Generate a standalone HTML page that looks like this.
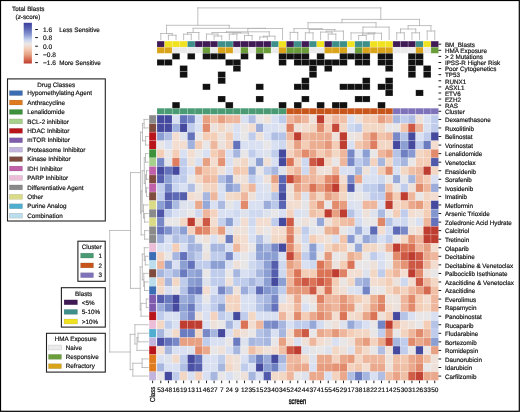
<!DOCTYPE html>
<html><head><meta charset="utf-8">
<style>
html,body{margin:0;padding:0;background:#fff;}
body{width:520px;height:412px;overflow:hidden;}
svg{display:block;font-family:"Liberation Sans", sans-serif;will-change:transform;}
text{stroke:#111111;stroke-width:0.18px;text-rendering:geometricPrecision;}
</style></head>
<body>
<svg width="520" height="412" viewBox="0 0 520 412">
<rect x="0" y="0" width="520" height="412" fill="#fff"/>
<g stroke="#ffffff" stroke-opacity="0.3" stroke-width="0.6">
<rect x="157.00" y="115.10" width="7.61" height="8.56" fill="#454a9f"/>
<rect x="164.61" y="115.10" width="7.61" height="8.56" fill="#454a9f"/>
<rect x="172.22" y="115.10" width="7.61" height="8.56" fill="#d8e0f2"/>
<rect x="179.83" y="115.10" width="7.61" height="8.56" fill="#6372bb"/>
<rect x="187.44" y="115.10" width="7.61" height="8.56" fill="#7888c7"/>
<rect x="195.05" y="115.10" width="7.61" height="8.56" fill="#d8e0f2"/>
<rect x="202.66" y="115.10" width="7.61" height="8.56" fill="#e8a082"/>
<rect x="210.27" y="115.10" width="7.61" height="8.56" fill="#f0c0a6"/>
<rect x="217.88" y="115.10" width="7.61" height="8.56" fill="#e8a082"/>
<rect x="225.49" y="115.10" width="7.61" height="8.56" fill="#eeb69c"/>
<rect x="233.10" y="115.10" width="7.61" height="8.56" fill="#eeb69c"/>
<rect x="240.71" y="115.10" width="7.61" height="8.56" fill="#d8e0f2"/>
<rect x="248.32" y="115.10" width="7.61" height="8.56" fill="#b0bee4"/>
<rect x="255.93" y="115.10" width="7.61" height="8.56" fill="#e8e6e6"/>
<rect x="263.54" y="115.10" width="7.61" height="8.56" fill="#eee1d9"/>
<rect x="271.15" y="115.10" width="7.61" height="8.56" fill="#d8e0f2"/>
<rect x="278.76" y="115.10" width="7.61" height="8.56" fill="#bfcceb"/>
<rect x="286.37" y="115.10" width="7.61" height="8.56" fill="#eeb69c"/>
<rect x="293.98" y="115.10" width="7.61" height="8.56" fill="#e8a082"/>
<rect x="301.59" y="115.10" width="7.61" height="8.56" fill="#eeb69c"/>
<rect x="309.20" y="115.10" width="7.61" height="8.56" fill="#eee1d9"/>
<rect x="316.81" y="115.10" width="7.61" height="8.56" fill="#bf3d30"/>
<rect x="324.42" y="115.10" width="7.61" height="8.56" fill="#f3d3c0"/>
<rect x="332.03" y="115.10" width="7.61" height="8.56" fill="#eeb69c"/>
<rect x="339.64" y="115.10" width="7.61" height="8.56" fill="#f0c0a6"/>
<rect x="347.25" y="115.10" width="7.61" height="8.56" fill="#d8e0f2"/>
<rect x="354.86" y="115.10" width="7.61" height="8.56" fill="#eee1d9"/>
<rect x="362.47" y="115.10" width="7.61" height="8.56" fill="#f3cdb5"/>
<rect x="370.08" y="115.10" width="7.61" height="8.56" fill="#f3cdb5"/>
<rect x="377.69" y="115.10" width="7.61" height="8.56" fill="#e8a082"/>
<rect x="385.30" y="115.10" width="7.61" height="8.56" fill="#eeb69c"/>
<rect x="392.91" y="115.10" width="7.61" height="8.56" fill="#a6b6df"/>
<rect x="400.52" y="115.10" width="7.61" height="8.56" fill="#bfcceb"/>
<rect x="408.13" y="115.10" width="7.61" height="8.56" fill="#b0bee4"/>
<rect x="415.74" y="115.10" width="7.61" height="8.56" fill="#eee1d9"/>
<rect x="423.35" y="115.10" width="7.61" height="8.56" fill="#d8e0f2"/>
<rect x="430.96" y="115.10" width="7.61" height="8.56" fill="#bfcceb"/>
<rect x="157.00" y="123.66" width="7.61" height="8.56" fill="#454a9f"/>
<rect x="164.61" y="123.66" width="7.61" height="8.56" fill="#454a9f"/>
<rect x="172.22" y="123.66" width="7.61" height="8.56" fill="#a0b1dd"/>
<rect x="179.83" y="123.66" width="7.61" height="8.56" fill="#454a9f"/>
<rect x="187.44" y="123.66" width="7.61" height="8.56" fill="#bfcceb"/>
<rect x="195.05" y="123.66" width="7.61" height="8.56" fill="#d8e0f2"/>
<rect x="202.66" y="123.66" width="7.61" height="8.56" fill="#e28a6c"/>
<rect x="210.27" y="123.66" width="7.61" height="8.56" fill="#ece2dd"/>
<rect x="217.88" y="123.66" width="7.61" height="8.56" fill="#f2d7c5"/>
<rect x="225.49" y="123.66" width="7.61" height="8.56" fill="#ece2dd"/>
<rect x="233.10" y="123.66" width="7.61" height="8.56" fill="#d8e0f2"/>
<rect x="240.71" y="123.66" width="7.61" height="8.56" fill="#eae4e2"/>
<rect x="248.32" y="123.66" width="7.61" height="8.56" fill="#f2ddd0"/>
<rect x="255.93" y="123.66" width="7.61" height="8.56" fill="#9bacda"/>
<rect x="263.54" y="123.66" width="7.61" height="8.56" fill="#d8e0f2"/>
<rect x="271.15" y="123.66" width="7.61" height="8.56" fill="#d8e0f2"/>
<rect x="278.76" y="123.66" width="7.61" height="8.56" fill="#e2e4eb"/>
<rect x="286.37" y="123.66" width="7.61" height="8.56" fill="#de7d60"/>
<rect x="293.98" y="123.66" width="7.61" height="8.56" fill="#eee1d9"/>
<rect x="301.59" y="123.66" width="7.61" height="8.56" fill="#f2ddd0"/>
<rect x="309.20" y="123.66" width="7.61" height="8.56" fill="#f2d7c5"/>
<rect x="316.81" y="123.66" width="7.61" height="8.56" fill="#e28a6c"/>
<rect x="324.42" y="123.66" width="7.61" height="8.56" fill="#f3cdb5"/>
<rect x="332.03" y="123.66" width="7.61" height="8.56" fill="#c54838"/>
<rect x="339.64" y="123.66" width="7.61" height="8.56" fill="#f2d7c5"/>
<rect x="347.25" y="123.66" width="7.61" height="8.56" fill="#ced8ef"/>
<rect x="354.86" y="123.66" width="7.61" height="8.56" fill="#bfcceb"/>
<rect x="362.47" y="123.66" width="7.61" height="8.56" fill="#f2d7c5"/>
<rect x="370.08" y="123.66" width="7.61" height="8.56" fill="#f2d7c5"/>
<rect x="377.69" y="123.66" width="7.61" height="8.56" fill="#f2d7c5"/>
<rect x="385.30" y="123.66" width="7.61" height="8.56" fill="#e8e6e6"/>
<rect x="392.91" y="123.66" width="7.61" height="8.56" fill="#e8e6e6"/>
<rect x="400.52" y="123.66" width="7.61" height="8.56" fill="#f1c4ab"/>
<rect x="408.13" y="123.66" width="7.61" height="8.56" fill="#cd5844"/>
<rect x="415.74" y="123.66" width="7.61" height="8.56" fill="#eeb69c"/>
<rect x="423.35" y="123.66" width="7.61" height="8.56" fill="#d8e0f2"/>
<rect x="430.96" y="123.66" width="7.61" height="8.56" fill="#bfcceb"/>
<rect x="157.00" y="132.21" width="7.61" height="8.56" fill="#8c9fd3"/>
<rect x="164.61" y="132.21" width="7.61" height="8.56" fill="#b0bee4"/>
<rect x="172.22" y="132.21" width="7.61" height="8.56" fill="#f2ddd0"/>
<rect x="179.83" y="132.21" width="7.61" height="8.56" fill="#dee2ed"/>
<rect x="187.44" y="132.21" width="7.61" height="8.56" fill="#6372bb"/>
<rect x="195.05" y="132.21" width="7.61" height="8.56" fill="#e8e6e6"/>
<rect x="202.66" y="132.21" width="7.61" height="8.56" fill="#f3cdb5"/>
<rect x="210.27" y="132.21" width="7.61" height="8.56" fill="#f3cdb5"/>
<rect x="217.88" y="132.21" width="7.61" height="8.56" fill="#ece2dd"/>
<rect x="225.49" y="132.21" width="7.61" height="8.56" fill="#f3cdb5"/>
<rect x="233.10" y="132.21" width="7.61" height="8.56" fill="#d8e0f2"/>
<rect x="240.71" y="132.21" width="7.61" height="8.56" fill="#e8e6e6"/>
<rect x="248.32" y="132.21" width="7.61" height="8.56" fill="#bfcceb"/>
<rect x="255.93" y="132.21" width="7.61" height="8.56" fill="#eee1d9"/>
<rect x="263.54" y="132.21" width="7.61" height="8.56" fill="#d8e0f2"/>
<rect x="271.15" y="132.21" width="7.61" height="8.56" fill="#b0bee4"/>
<rect x="278.76" y="132.21" width="7.61" height="8.56" fill="#b5c3e6"/>
<rect x="286.37" y="132.21" width="7.61" height="8.56" fill="#eeb69c"/>
<rect x="293.98" y="132.21" width="7.61" height="8.56" fill="#bf3d30"/>
<rect x="301.59" y="132.21" width="7.61" height="8.56" fill="#eeb69c"/>
<rect x="309.20" y="132.21" width="7.61" height="8.56" fill="#ebae91"/>
<rect x="316.81" y="132.21" width="7.61" height="8.56" fill="#ebae91"/>
<rect x="324.42" y="132.21" width="7.61" height="8.56" fill="#eaa98c"/>
<rect x="332.03" y="132.21" width="7.61" height="8.56" fill="#eee1d9"/>
<rect x="339.64" y="132.21" width="7.61" height="8.56" fill="#bf3d30"/>
<rect x="347.25" y="132.21" width="7.61" height="8.56" fill="#eae4e2"/>
<rect x="354.86" y="132.21" width="7.61" height="8.56" fill="#eee1d9"/>
<rect x="362.47" y="132.21" width="7.61" height="8.56" fill="#eeb69c"/>
<rect x="370.08" y="132.21" width="7.61" height="8.56" fill="#e28a6c"/>
<rect x="377.69" y="132.21" width="7.61" height="8.56" fill="#f1c4ab"/>
<rect x="385.30" y="132.21" width="7.61" height="8.56" fill="#eeb69c"/>
<rect x="392.91" y="132.21" width="7.61" height="8.56" fill="#7888c7"/>
<rect x="400.52" y="132.21" width="7.61" height="8.56" fill="#b5c3e6"/>
<rect x="408.13" y="132.21" width="7.61" height="8.56" fill="#454a9f"/>
<rect x="415.74" y="132.21" width="7.61" height="8.56" fill="#d8e0f2"/>
<rect x="423.35" y="132.21" width="7.61" height="8.56" fill="#bfcceb"/>
<rect x="430.96" y="132.21" width="7.61" height="8.56" fill="#454a9f"/>
<rect x="157.00" y="140.77" width="7.61" height="8.56" fill="#e8e6e6"/>
<rect x="164.61" y="140.77" width="7.61" height="8.56" fill="#d8e0f2"/>
<rect x="172.22" y="140.77" width="7.61" height="8.56" fill="#f2ddd0"/>
<rect x="179.83" y="140.77" width="7.61" height="8.56" fill="#f2ddd0"/>
<rect x="187.44" y="140.77" width="7.61" height="8.56" fill="#a0b1dd"/>
<rect x="195.05" y="140.77" width="7.61" height="8.56" fill="#f3cdb5"/>
<rect x="202.66" y="140.77" width="7.61" height="8.56" fill="#e8e6e6"/>
<rect x="210.27" y="140.77" width="7.61" height="8.56" fill="#eeb69c"/>
<rect x="217.88" y="140.77" width="7.61" height="8.56" fill="#ece2dd"/>
<rect x="225.49" y="140.77" width="7.61" height="8.56" fill="#f3d3c0"/>
<rect x="233.10" y="140.77" width="7.61" height="8.56" fill="#6372bb"/>
<rect x="240.71" y="140.77" width="7.61" height="8.56" fill="#d8e0f2"/>
<rect x="248.32" y="140.77" width="7.61" height="8.56" fill="#d8e0f2"/>
<rect x="255.93" y="140.77" width="7.61" height="8.56" fill="#d8e0f2"/>
<rect x="263.54" y="140.77" width="7.61" height="8.56" fill="#e8e6e6"/>
<rect x="271.15" y="140.77" width="7.61" height="8.56" fill="#d8e0f2"/>
<rect x="278.76" y="140.77" width="7.61" height="8.56" fill="#ced8ef"/>
<rect x="286.37" y="140.77" width="7.61" height="8.56" fill="#f2d7c5"/>
<rect x="293.98" y="140.77" width="7.61" height="8.56" fill="#e8a082"/>
<rect x="301.59" y="140.77" width="7.61" height="8.56" fill="#f3cdb5"/>
<rect x="309.20" y="140.77" width="7.61" height="8.56" fill="#ebae91"/>
<rect x="316.81" y="140.77" width="7.61" height="8.56" fill="#ebae91"/>
<rect x="324.42" y="140.77" width="7.61" height="8.56" fill="#e59779"/>
<rect x="332.03" y="140.77" width="7.61" height="8.56" fill="#f3cdb5"/>
<rect x="339.64" y="140.77" width="7.61" height="8.56" fill="#bf3d30"/>
<rect x="347.25" y="140.77" width="7.61" height="8.56" fill="#d8e0f2"/>
<rect x="354.86" y="140.77" width="7.61" height="8.56" fill="#f2c8b0"/>
<rect x="362.47" y="140.77" width="7.61" height="8.56" fill="#eeb69c"/>
<rect x="370.08" y="140.77" width="7.61" height="8.56" fill="#de7d60"/>
<rect x="377.69" y="140.77" width="7.61" height="8.56" fill="#f2d7c5"/>
<rect x="385.30" y="140.77" width="7.61" height="8.56" fill="#f2d7c5"/>
<rect x="392.91" y="140.77" width="7.61" height="8.56" fill="#454a9f"/>
<rect x="400.52" y="140.77" width="7.61" height="8.56" fill="#8c9fd3"/>
<rect x="408.13" y="140.77" width="7.61" height="8.56" fill="#454a9f"/>
<rect x="415.74" y="140.77" width="7.61" height="8.56" fill="#bfcceb"/>
<rect x="423.35" y="140.77" width="7.61" height="8.56" fill="#6b7bc0"/>
<rect x="430.96" y="140.77" width="7.61" height="8.56" fill="#f2ddd0"/>
<rect x="157.00" y="149.32" width="7.61" height="8.56" fill="#f3cdb5"/>
<rect x="164.61" y="149.32" width="7.61" height="8.56" fill="#e8e6e6"/>
<rect x="172.22" y="149.32" width="7.61" height="8.56" fill="#f3cdb5"/>
<rect x="179.83" y="149.32" width="7.61" height="8.56" fill="#d8e0f2"/>
<rect x="187.44" y="149.32" width="7.61" height="8.56" fill="#f2ddd0"/>
<rect x="195.05" y="149.32" width="7.61" height="8.56" fill="#e8e6e6"/>
<rect x="202.66" y="149.32" width="7.61" height="8.56" fill="#d8e0f2"/>
<rect x="210.27" y="149.32" width="7.61" height="8.56" fill="#f3cdb5"/>
<rect x="217.88" y="149.32" width="7.61" height="8.56" fill="#eeb69c"/>
<rect x="225.49" y="149.32" width="7.61" height="8.56" fill="#d8e0f2"/>
<rect x="233.10" y="149.32" width="7.61" height="8.56" fill="#a6b6df"/>
<rect x="240.71" y="149.32" width="7.61" height="8.56" fill="#e8e6e6"/>
<rect x="248.32" y="149.32" width="7.61" height="8.56" fill="#bfcceb"/>
<rect x="255.93" y="149.32" width="7.61" height="8.56" fill="#d8e0f2"/>
<rect x="263.54" y="149.32" width="7.61" height="8.56" fill="#dee2ed"/>
<rect x="271.15" y="149.32" width="7.61" height="8.56" fill="#bfcceb"/>
<rect x="278.76" y="149.32" width="7.61" height="8.56" fill="#454a9f"/>
<rect x="286.37" y="149.32" width="7.61" height="8.56" fill="#f3d3c0"/>
<rect x="293.98" y="149.32" width="7.61" height="8.56" fill="#eeb69c"/>
<rect x="301.59" y="149.32" width="7.61" height="8.56" fill="#e28a6c"/>
<rect x="309.20" y="149.32" width="7.61" height="8.56" fill="#e9a487"/>
<rect x="316.81" y="149.32" width="7.61" height="8.56" fill="#f3cdb5"/>
<rect x="324.42" y="149.32" width="7.61" height="8.56" fill="#eeb69c"/>
<rect x="332.03" y="149.32" width="7.61" height="8.56" fill="#f2d7c5"/>
<rect x="339.64" y="149.32" width="7.61" height="8.56" fill="#eeb69c"/>
<rect x="347.25" y="149.32" width="7.61" height="8.56" fill="#7888c7"/>
<rect x="354.86" y="149.32" width="7.61" height="8.56" fill="#d8e0f2"/>
<rect x="362.47" y="149.32" width="7.61" height="8.56" fill="#8c9fd3"/>
<rect x="370.08" y="149.32" width="7.61" height="8.56" fill="#e8e6e6"/>
<rect x="377.69" y="149.32" width="7.61" height="8.56" fill="#eeb69c"/>
<rect x="385.30" y="149.32" width="7.61" height="8.56" fill="#e8a082"/>
<rect x="392.91" y="149.32" width="7.61" height="8.56" fill="#b5c3e6"/>
<rect x="400.52" y="149.32" width="7.61" height="8.56" fill="#6f80c2"/>
<rect x="408.13" y="149.32" width="7.61" height="8.56" fill="#889ad1"/>
<rect x="415.74" y="149.32" width="7.61" height="8.56" fill="#f2d7c5"/>
<rect x="423.35" y="149.32" width="7.61" height="8.56" fill="#f3cdb5"/>
<rect x="430.96" y="149.32" width="7.61" height="8.56" fill="#e28a6c"/>
<rect x="157.00" y="157.88" width="7.61" height="8.56" fill="#7888c7"/>
<rect x="164.61" y="157.88" width="7.61" height="8.56" fill="#e2e4eb"/>
<rect x="172.22" y="157.88" width="7.61" height="8.56" fill="#de7d60"/>
<rect x="179.83" y="157.88" width="7.61" height="8.56" fill="#bfcceb"/>
<rect x="187.44" y="157.88" width="7.61" height="8.56" fill="#eee1d9"/>
<rect x="195.05" y="157.88" width="7.61" height="8.56" fill="#d8e0f2"/>
<rect x="202.66" y="157.88" width="7.61" height="8.56" fill="#e8a082"/>
<rect x="210.27" y="157.88" width="7.61" height="8.56" fill="#f2ddd0"/>
<rect x="217.88" y="157.88" width="7.61" height="8.56" fill="#e49375"/>
<rect x="225.49" y="157.88" width="7.61" height="8.56" fill="#d8e0f2"/>
<rect x="233.10" y="157.88" width="7.61" height="8.56" fill="#eee1d9"/>
<rect x="240.71" y="157.88" width="7.61" height="8.56" fill="#f2d7c5"/>
<rect x="248.32" y="157.88" width="7.61" height="8.56" fill="#dee2ed"/>
<rect x="255.93" y="157.88" width="7.61" height="8.56" fill="#8c9fd3"/>
<rect x="263.54" y="157.88" width="7.61" height="8.56" fill="#f0dfd4"/>
<rect x="271.15" y="157.88" width="7.61" height="8.56" fill="#d8e0f2"/>
<rect x="278.76" y="157.88" width="7.61" height="8.56" fill="#454a9f"/>
<rect x="286.37" y="157.88" width="7.61" height="8.56" fill="#db7457"/>
<rect x="293.98" y="157.88" width="7.61" height="8.56" fill="#f2d7c5"/>
<rect x="301.59" y="157.88" width="7.61" height="8.56" fill="#ced8ef"/>
<rect x="309.20" y="157.88" width="7.61" height="8.56" fill="#cd5844"/>
<rect x="316.81" y="157.88" width="7.61" height="8.56" fill="#bf3d30"/>
<rect x="324.42" y="157.88" width="7.61" height="8.56" fill="#f2d7c5"/>
<rect x="332.03" y="157.88" width="7.61" height="8.56" fill="#e8e6e6"/>
<rect x="339.64" y="157.88" width="7.61" height="8.56" fill="#eeb69c"/>
<rect x="347.25" y="157.88" width="7.61" height="8.56" fill="#7888c7"/>
<rect x="354.86" y="157.88" width="7.61" height="8.56" fill="#bfcceb"/>
<rect x="362.47" y="157.88" width="7.61" height="8.56" fill="#a6b6df"/>
<rect x="370.08" y="157.88" width="7.61" height="8.56" fill="#f3d3c0"/>
<rect x="377.69" y="157.88" width="7.61" height="8.56" fill="#a6b6df"/>
<rect x="385.30" y="157.88" width="7.61" height="8.56" fill="#f2d7c5"/>
<rect x="392.91" y="157.88" width="7.61" height="8.56" fill="#bfcceb"/>
<rect x="400.52" y="157.88" width="7.61" height="8.56" fill="#a6b6df"/>
<rect x="408.13" y="157.88" width="7.61" height="8.56" fill="#e8e6e6"/>
<rect x="415.74" y="157.88" width="7.61" height="8.56" fill="#f3cdb5"/>
<rect x="423.35" y="157.88" width="7.61" height="8.56" fill="#f3cdb5"/>
<rect x="430.96" y="157.88" width="7.61" height="8.56" fill="#515aaa"/>
<rect x="157.00" y="166.44" width="7.61" height="8.56" fill="#454a9f"/>
<rect x="164.61" y="166.44" width="7.61" height="8.56" fill="#6372bb"/>
<rect x="172.22" y="166.44" width="7.61" height="8.56" fill="#454a9f"/>
<rect x="179.83" y="166.44" width="7.61" height="8.56" fill="#bfcceb"/>
<rect x="187.44" y="166.44" width="7.61" height="8.56" fill="#d8e0f2"/>
<rect x="195.05" y="166.44" width="7.61" height="8.56" fill="#e8a082"/>
<rect x="202.66" y="166.44" width="7.61" height="8.56" fill="#f1c4ab"/>
<rect x="210.27" y="166.44" width="7.61" height="8.56" fill="#f3cdb5"/>
<rect x="217.88" y="166.44" width="7.61" height="8.56" fill="#eee1d9"/>
<rect x="225.49" y="166.44" width="7.61" height="8.56" fill="#d8e0f2"/>
<rect x="233.10" y="166.44" width="7.61" height="8.56" fill="#f1c4ab"/>
<rect x="240.71" y="166.44" width="7.61" height="8.56" fill="#f3cdb5"/>
<rect x="248.32" y="166.44" width="7.61" height="8.56" fill="#91a4d5"/>
<rect x="255.93" y="166.44" width="7.61" height="8.56" fill="#e8e6e6"/>
<rect x="263.54" y="166.44" width="7.61" height="8.56" fill="#bfcceb"/>
<rect x="271.15" y="166.44" width="7.61" height="8.56" fill="#a6b6df"/>
<rect x="278.76" y="166.44" width="7.61" height="8.56" fill="#dee2ed"/>
<rect x="286.37" y="166.44" width="7.61" height="8.56" fill="#f3cdb5"/>
<rect x="293.98" y="166.44" width="7.61" height="8.56" fill="#eeb69c"/>
<rect x="301.59" y="166.44" width="7.61" height="8.56" fill="#ced8ef"/>
<rect x="309.20" y="166.44" width="7.61" height="8.56" fill="#eeb69c"/>
<rect x="316.81" y="166.44" width="7.61" height="8.56" fill="#eee1d9"/>
<rect x="324.42" y="166.44" width="7.61" height="8.56" fill="#eee1d9"/>
<rect x="332.03" y="166.44" width="7.61" height="8.56" fill="#eeb69c"/>
<rect x="339.64" y="166.44" width="7.61" height="8.56" fill="#d8e0f2"/>
<rect x="347.25" y="166.44" width="7.61" height="8.56" fill="#d8e0f2"/>
<rect x="354.86" y="166.44" width="7.61" height="8.56" fill="#a6b6df"/>
<rect x="362.47" y="166.44" width="7.61" height="8.56" fill="#eee1d9"/>
<rect x="370.08" y="166.44" width="7.61" height="8.56" fill="#d8e0f2"/>
<rect x="377.69" y="166.44" width="7.61" height="8.56" fill="#f3cdb5"/>
<rect x="385.30" y="166.44" width="7.61" height="8.56" fill="#e28a6c"/>
<rect x="392.91" y="166.44" width="7.61" height="8.56" fill="#d8e0f2"/>
<rect x="400.52" y="166.44" width="7.61" height="8.56" fill="#f2d7c5"/>
<rect x="408.13" y="166.44" width="7.61" height="8.56" fill="#f0c0a6"/>
<rect x="415.74" y="166.44" width="7.61" height="8.56" fill="#eeb69c"/>
<rect x="423.35" y="166.44" width="7.61" height="8.56" fill="#bf3d30"/>
<rect x="430.96" y="166.44" width="7.61" height="8.56" fill="#f2d7c5"/>
<rect x="157.00" y="174.99" width="7.61" height="8.56" fill="#545ead"/>
<rect x="164.61" y="174.99" width="7.61" height="8.56" fill="#8c9fd3"/>
<rect x="172.22" y="174.99" width="7.61" height="8.56" fill="#bfcceb"/>
<rect x="179.83" y="174.99" width="7.61" height="8.56" fill="#bfcceb"/>
<rect x="187.44" y="174.99" width="7.61" height="8.56" fill="#e8e6e6"/>
<rect x="195.05" y="174.99" width="7.61" height="8.56" fill="#f2d7c5"/>
<rect x="202.66" y="174.99" width="7.61" height="8.56" fill="#eeb69c"/>
<rect x="210.27" y="174.99" width="7.61" height="8.56" fill="#f0c0a6"/>
<rect x="217.88" y="174.99" width="7.61" height="8.56" fill="#b0bee4"/>
<rect x="225.49" y="174.99" width="7.61" height="8.56" fill="#889ad1"/>
<rect x="233.10" y="174.99" width="7.61" height="8.56" fill="#eee1d9"/>
<rect x="240.71" y="174.99" width="7.61" height="8.56" fill="#eee1d9"/>
<rect x="248.32" y="174.99" width="7.61" height="8.56" fill="#bfcceb"/>
<rect x="255.93" y="174.99" width="7.61" height="8.56" fill="#d8e0f2"/>
<rect x="263.54" y="174.99" width="7.61" height="8.56" fill="#eee1d9"/>
<rect x="271.15" y="174.99" width="7.61" height="8.56" fill="#e8a082"/>
<rect x="278.76" y="174.99" width="7.61" height="8.56" fill="#5a66b3"/>
<rect x="286.37" y="174.99" width="7.61" height="8.56" fill="#c54838"/>
<rect x="293.98" y="174.99" width="7.61" height="8.56" fill="#e28a6c"/>
<rect x="301.59" y="174.99" width="7.61" height="8.56" fill="#eeb69c"/>
<rect x="309.20" y="174.99" width="7.61" height="8.56" fill="#eeb69c"/>
<rect x="316.81" y="174.99" width="7.61" height="8.56" fill="#f1c4ab"/>
<rect x="324.42" y="174.99" width="7.61" height="8.56" fill="#e28a6c"/>
<rect x="332.03" y="174.99" width="7.61" height="8.56" fill="#db7457"/>
<rect x="339.64" y="174.99" width="7.61" height="8.56" fill="#f2ddd0"/>
<rect x="347.25" y="174.99" width="7.61" height="8.56" fill="#7888c7"/>
<rect x="354.86" y="174.99" width="7.61" height="8.56" fill="#eaa98c"/>
<rect x="362.47" y="174.99" width="7.61" height="8.56" fill="#d8e0f2"/>
<rect x="370.08" y="174.99" width="7.61" height="8.56" fill="#d8e0f2"/>
<rect x="377.69" y="174.99" width="7.61" height="8.56" fill="#ced8ef"/>
<rect x="385.30" y="174.99" width="7.61" height="8.56" fill="#e8e6e6"/>
<rect x="392.91" y="174.99" width="7.61" height="8.56" fill="#96a8d8"/>
<rect x="400.52" y="174.99" width="7.61" height="8.56" fill="#e5e5e8"/>
<rect x="408.13" y="174.99" width="7.61" height="8.56" fill="#a6b6df"/>
<rect x="415.74" y="174.99" width="7.61" height="8.56" fill="#eeb69c"/>
<rect x="423.35" y="174.99" width="7.61" height="8.56" fill="#f3cdb5"/>
<rect x="430.96" y="174.99" width="7.61" height="8.56" fill="#d8e0f2"/>
<rect x="157.00" y="183.55" width="7.61" height="8.56" fill="#bfcceb"/>
<rect x="164.61" y="183.55" width="7.61" height="8.56" fill="#7888c7"/>
<rect x="172.22" y="183.55" width="7.61" height="8.56" fill="#c9d4ee"/>
<rect x="179.83" y="183.55" width="7.61" height="8.56" fill="#d8e0f2"/>
<rect x="187.44" y="183.55" width="7.61" height="8.56" fill="#b0bee4"/>
<rect x="195.05" y="183.55" width="7.61" height="8.56" fill="#eae4e2"/>
<rect x="202.66" y="183.55" width="7.61" height="8.56" fill="#f2d7c5"/>
<rect x="210.27" y="183.55" width="7.61" height="8.56" fill="#f3d3c0"/>
<rect x="217.88" y="183.55" width="7.61" height="8.56" fill="#d8e0f2"/>
<rect x="225.49" y="183.55" width="7.61" height="8.56" fill="#8c9fd3"/>
<rect x="233.10" y="183.55" width="7.61" height="8.56" fill="#a0b1dd"/>
<rect x="240.71" y="183.55" width="7.61" height="8.56" fill="#f2d7c5"/>
<rect x="248.32" y="183.55" width="7.61" height="8.56" fill="#eeb69c"/>
<rect x="255.93" y="183.55" width="7.61" height="8.56" fill="#d8e0f2"/>
<rect x="263.54" y="183.55" width="7.61" height="8.56" fill="#dee2ed"/>
<rect x="271.15" y="183.55" width="7.61" height="8.56" fill="#f3cdb5"/>
<rect x="278.76" y="183.55" width="7.61" height="8.56" fill="#545ead"/>
<rect x="286.37" y="183.55" width="7.61" height="8.56" fill="#eee1d9"/>
<rect x="293.98" y="183.55" width="7.61" height="8.56" fill="#e8a082"/>
<rect x="301.59" y="183.55" width="7.61" height="8.56" fill="#eeb69c"/>
<rect x="309.20" y="183.55" width="7.61" height="8.56" fill="#db7457"/>
<rect x="316.81" y="183.55" width="7.61" height="8.56" fill="#e8a082"/>
<rect x="324.42" y="183.55" width="7.61" height="8.56" fill="#db7457"/>
<rect x="332.03" y="183.55" width="7.61" height="8.56" fill="#bf3d30"/>
<rect x="339.64" y="183.55" width="7.61" height="8.56" fill="#f3cdb5"/>
<rect x="347.25" y="183.55" width="7.61" height="8.56" fill="#515aaa"/>
<rect x="354.86" y="183.55" width="7.61" height="8.56" fill="#dee2ed"/>
<rect x="362.47" y="183.55" width="7.61" height="8.56" fill="#bfcceb"/>
<rect x="370.08" y="183.55" width="7.61" height="8.56" fill="#bfcceb"/>
<rect x="377.69" y="183.55" width="7.61" height="8.56" fill="#a6b6df"/>
<rect x="385.30" y="183.55" width="7.61" height="8.56" fill="#f1c4ab"/>
<rect x="392.91" y="183.55" width="7.61" height="8.56" fill="#e8e6e6"/>
<rect x="400.52" y="183.55" width="7.61" height="8.56" fill="#bfcceb"/>
<rect x="408.13" y="183.55" width="7.61" height="8.56" fill="#eee1d9"/>
<rect x="415.74" y="183.55" width="7.61" height="8.56" fill="#e28a6c"/>
<rect x="423.35" y="183.55" width="7.61" height="8.56" fill="#eeb69c"/>
<rect x="430.96" y="183.55" width="7.61" height="8.56" fill="#9bacda"/>
<rect x="157.00" y="192.10" width="7.61" height="8.56" fill="#bfcceb"/>
<rect x="164.61" y="192.10" width="7.61" height="8.56" fill="#545ead"/>
<rect x="172.22" y="192.10" width="7.61" height="8.56" fill="#5d6ab5"/>
<rect x="179.83" y="192.10" width="7.61" height="8.56" fill="#545ead"/>
<rect x="187.44" y="192.10" width="7.61" height="8.56" fill="#f2ddd0"/>
<rect x="195.05" y="192.10" width="7.61" height="8.56" fill="#eee1d9"/>
<rect x="202.66" y="192.10" width="7.61" height="8.56" fill="#a6b6df"/>
<rect x="210.27" y="192.10" width="7.61" height="8.56" fill="#eeb69c"/>
<rect x="217.88" y="192.10" width="7.61" height="8.56" fill="#d8e0f2"/>
<rect x="225.49" y="192.10" width="7.61" height="8.56" fill="#f2dacb"/>
<rect x="233.10" y="192.10" width="7.61" height="8.56" fill="#f2d7c5"/>
<rect x="240.71" y="192.10" width="7.61" height="8.56" fill="#eeb69c"/>
<rect x="248.32" y="192.10" width="7.61" height="8.56" fill="#eee1d9"/>
<rect x="255.93" y="192.10" width="7.61" height="8.56" fill="#d8e0f2"/>
<rect x="263.54" y="192.10" width="7.61" height="8.56" fill="#d8e0f2"/>
<rect x="271.15" y="192.10" width="7.61" height="8.56" fill="#b5c3e6"/>
<rect x="278.76" y="192.10" width="7.61" height="8.56" fill="#454a9f"/>
<rect x="286.37" y="192.10" width="7.61" height="8.56" fill="#eee1d9"/>
<rect x="293.98" y="192.10" width="7.61" height="8.56" fill="#f1c4ab"/>
<rect x="301.59" y="192.10" width="7.61" height="8.56" fill="#dee2ed"/>
<rect x="309.20" y="192.10" width="7.61" height="8.56" fill="#eeb69c"/>
<rect x="316.81" y="192.10" width="7.61" height="8.56" fill="#f2d7c5"/>
<rect x="324.42" y="192.10" width="7.61" height="8.56" fill="#e8a082"/>
<rect x="332.03" y="192.10" width="7.61" height="8.56" fill="#eeb69c"/>
<rect x="339.64" y="192.10" width="7.61" height="8.56" fill="#f2d7c5"/>
<rect x="347.25" y="192.10" width="7.61" height="8.56" fill="#e2e4eb"/>
<rect x="354.86" y="192.10" width="7.61" height="8.56" fill="#e8e6e6"/>
<rect x="362.47" y="192.10" width="7.61" height="8.56" fill="#dee2ed"/>
<rect x="370.08" y="192.10" width="7.61" height="8.56" fill="#bfcceb"/>
<rect x="377.69" y="192.10" width="7.61" height="8.56" fill="#bfcceb"/>
<rect x="385.30" y="192.10" width="7.61" height="8.56" fill="#e28a6c"/>
<rect x="392.91" y="192.10" width="7.61" height="8.56" fill="#f3cdb5"/>
<rect x="400.52" y="192.10" width="7.61" height="8.56" fill="#bf3d30"/>
<rect x="408.13" y="192.10" width="7.61" height="8.56" fill="#eeb69c"/>
<rect x="415.74" y="192.10" width="7.61" height="8.56" fill="#e8e6e6"/>
<rect x="423.35" y="192.10" width="7.61" height="8.56" fill="#f2d7c5"/>
<rect x="430.96" y="192.10" width="7.61" height="8.56" fill="#f2ddd0"/>
<rect x="157.00" y="200.66" width="7.61" height="8.56" fill="#8c9fd3"/>
<rect x="164.61" y="200.66" width="7.61" height="8.56" fill="#6372bb"/>
<rect x="172.22" y="200.66" width="7.61" height="8.56" fill="#abbae1"/>
<rect x="179.83" y="200.66" width="7.61" height="8.56" fill="#dee2ed"/>
<rect x="187.44" y="200.66" width="7.61" height="8.56" fill="#dee2ed"/>
<rect x="195.05" y="200.66" width="7.61" height="8.56" fill="#eaa98c"/>
<rect x="202.66" y="200.66" width="7.61" height="8.56" fill="#96a8d8"/>
<rect x="210.27" y="200.66" width="7.61" height="8.56" fill="#d8e0f2"/>
<rect x="217.88" y="200.66" width="7.61" height="8.56" fill="#abbae1"/>
<rect x="225.49" y="200.66" width="7.61" height="8.56" fill="#e5e5e8"/>
<rect x="233.10" y="200.66" width="7.61" height="8.56" fill="#d8e0f2"/>
<rect x="240.71" y="200.66" width="7.61" height="8.56" fill="#e28a6c"/>
<rect x="248.32" y="200.66" width="7.61" height="8.56" fill="#d8e0f2"/>
<rect x="255.93" y="200.66" width="7.61" height="8.56" fill="#d8e0f2"/>
<rect x="263.54" y="200.66" width="7.61" height="8.56" fill="#9bacda"/>
<rect x="271.15" y="200.66" width="7.61" height="8.56" fill="#bac8e9"/>
<rect x="278.76" y="200.66" width="7.61" height="8.56" fill="#5a66b3"/>
<rect x="286.37" y="200.66" width="7.61" height="8.56" fill="#f2ddd0"/>
<rect x="293.98" y="200.66" width="7.61" height="8.56" fill="#f2ddd0"/>
<rect x="301.59" y="200.66" width="7.61" height="8.56" fill="#e5e5e8"/>
<rect x="309.20" y="200.66" width="7.61" height="8.56" fill="#f1c4ab"/>
<rect x="316.81" y="200.66" width="7.61" height="8.56" fill="#e49375"/>
<rect x="324.42" y="200.66" width="7.61" height="8.56" fill="#e8e6e6"/>
<rect x="332.03" y="200.66" width="7.61" height="8.56" fill="#e28a6c"/>
<rect x="339.64" y="200.66" width="7.61" height="8.56" fill="#e79c7e"/>
<rect x="347.25" y="200.66" width="7.61" height="8.56" fill="#dbe1f0"/>
<rect x="354.86" y="200.66" width="7.61" height="8.56" fill="#dee2ed"/>
<rect x="362.47" y="200.66" width="7.61" height="8.56" fill="#eeb69c"/>
<rect x="370.08" y="200.66" width="7.61" height="8.56" fill="#eeb69c"/>
<rect x="377.69" y="200.66" width="7.61" height="8.56" fill="#d8e0f2"/>
<rect x="385.30" y="200.66" width="7.61" height="8.56" fill="#bf3d30"/>
<rect x="392.91" y="200.66" width="7.61" height="8.56" fill="#f2d7c5"/>
<rect x="400.52" y="200.66" width="7.61" height="8.56" fill="#f3cdb5"/>
<rect x="408.13" y="200.66" width="7.61" height="8.56" fill="#eaa98c"/>
<rect x="415.74" y="200.66" width="7.61" height="8.56" fill="#e79c7e"/>
<rect x="423.35" y="200.66" width="7.61" height="8.56" fill="#f3cdb5"/>
<rect x="430.96" y="200.66" width="7.61" height="8.56" fill="#454a9f"/>
<rect x="157.00" y="209.22" width="7.61" height="8.56" fill="#4e56a7"/>
<rect x="164.61" y="209.22" width="7.61" height="8.56" fill="#bfcceb"/>
<rect x="172.22" y="209.22" width="7.61" height="8.56" fill="#d8e0f2"/>
<rect x="179.83" y="209.22" width="7.61" height="8.56" fill="#dee2ed"/>
<rect x="187.44" y="209.22" width="7.61" height="8.56" fill="#e8e6e6"/>
<rect x="195.05" y="209.22" width="7.61" height="8.56" fill="#ced8ef"/>
<rect x="202.66" y="209.22" width="7.61" height="8.56" fill="#eeb69c"/>
<rect x="210.27" y="209.22" width="7.61" height="8.56" fill="#f3d3c0"/>
<rect x="217.88" y="209.22" width="7.61" height="8.56" fill="#d8e0f2"/>
<rect x="225.49" y="209.22" width="7.61" height="8.56" fill="#d8e0f2"/>
<rect x="233.10" y="209.22" width="7.61" height="8.56" fill="#ced8ef"/>
<rect x="240.71" y="209.22" width="7.61" height="8.56" fill="#dee2ed"/>
<rect x="248.32" y="209.22" width="7.61" height="8.56" fill="#ced8ef"/>
<rect x="255.93" y="209.22" width="7.61" height="8.56" fill="#ced8ef"/>
<rect x="263.54" y="209.22" width="7.61" height="8.56" fill="#dee2ed"/>
<rect x="271.15" y="209.22" width="7.61" height="8.56" fill="#e8e6e6"/>
<rect x="278.76" y="209.22" width="7.61" height="8.56" fill="#d8e0f2"/>
<rect x="286.37" y="209.22" width="7.61" height="8.56" fill="#f3d3c0"/>
<rect x="293.98" y="209.22" width="7.61" height="8.56" fill="#d8e0f2"/>
<rect x="301.59" y="209.22" width="7.61" height="8.56" fill="#dee2ed"/>
<rect x="309.20" y="209.22" width="7.61" height="8.56" fill="#f0c0a6"/>
<rect x="316.81" y="209.22" width="7.61" height="8.56" fill="#f3cdb5"/>
<rect x="324.42" y="209.22" width="7.61" height="8.56" fill="#bf3d30"/>
<rect x="332.03" y="209.22" width="7.61" height="8.56" fill="#e8a082"/>
<rect x="339.64" y="209.22" width="7.61" height="8.56" fill="#bf3d30"/>
<rect x="347.25" y="209.22" width="7.61" height="8.56" fill="#b5c3e6"/>
<rect x="354.86" y="209.22" width="7.61" height="8.56" fill="#d8e0f2"/>
<rect x="362.47" y="209.22" width="7.61" height="8.56" fill="#eee1d9"/>
<rect x="370.08" y="209.22" width="7.61" height="8.56" fill="#dee2ed"/>
<rect x="377.69" y="209.22" width="7.61" height="8.56" fill="#abbae1"/>
<rect x="385.30" y="209.22" width="7.61" height="8.56" fill="#e8e6e6"/>
<rect x="392.91" y="209.22" width="7.61" height="8.56" fill="#f3cdb5"/>
<rect x="400.52" y="209.22" width="7.61" height="8.56" fill="#bfcceb"/>
<rect x="408.13" y="209.22" width="7.61" height="8.56" fill="#f2ddd0"/>
<rect x="415.74" y="209.22" width="7.61" height="8.56" fill="#eee1d9"/>
<rect x="423.35" y="209.22" width="7.61" height="8.56" fill="#f3cdb5"/>
<rect x="430.96" y="209.22" width="7.61" height="8.56" fill="#8496ce"/>
<rect x="157.00" y="217.77" width="7.61" height="8.56" fill="#7888c7"/>
<rect x="164.61" y="217.77" width="7.61" height="8.56" fill="#e8e6e6"/>
<rect x="172.22" y="217.77" width="7.61" height="8.56" fill="#e8e6e6"/>
<rect x="179.83" y="217.77" width="7.61" height="8.56" fill="#f2d7c5"/>
<rect x="187.44" y="217.77" width="7.61" height="8.56" fill="#bf3d30"/>
<rect x="195.05" y="217.77" width="7.61" height="8.56" fill="#f2d7c5"/>
<rect x="202.66" y="217.77" width="7.61" height="8.56" fill="#cd5844"/>
<rect x="210.27" y="217.77" width="7.61" height="8.56" fill="#f2ddd0"/>
<rect x="217.88" y="217.77" width="7.61" height="8.56" fill="#c4d0ec"/>
<rect x="225.49" y="217.77" width="7.61" height="8.56" fill="#8c9fd3"/>
<rect x="233.10" y="217.77" width="7.61" height="8.56" fill="#d8e0f2"/>
<rect x="240.71" y="217.77" width="7.61" height="8.56" fill="#f2ddd0"/>
<rect x="248.32" y="217.77" width="7.61" height="8.56" fill="#ced8ef"/>
<rect x="255.93" y="217.77" width="7.61" height="8.56" fill="#f2ddd0"/>
<rect x="263.54" y="217.77" width="7.61" height="8.56" fill="#f2ddd0"/>
<rect x="271.15" y="217.77" width="7.61" height="8.56" fill="#bfcceb"/>
<rect x="278.76" y="217.77" width="7.61" height="8.56" fill="#454a9f"/>
<rect x="286.37" y="217.77" width="7.61" height="8.56" fill="#cd5844"/>
<rect x="293.98" y="217.77" width="7.61" height="8.56" fill="#e8e6e6"/>
<rect x="301.59" y="217.77" width="7.61" height="8.56" fill="#eee1d9"/>
<rect x="309.20" y="217.77" width="7.61" height="8.56" fill="#e8e6e6"/>
<rect x="316.81" y="217.77" width="7.61" height="8.56" fill="#96a8d8"/>
<rect x="324.42" y="217.77" width="7.61" height="8.56" fill="#eee1d9"/>
<rect x="332.03" y="217.77" width="7.61" height="8.56" fill="#f3cdb5"/>
<rect x="339.64" y="217.77" width="7.61" height="8.56" fill="#f0c0a6"/>
<rect x="347.25" y="217.77" width="7.61" height="8.56" fill="#eeb69c"/>
<rect x="354.86" y="217.77" width="7.61" height="8.56" fill="#d3dcf1"/>
<rect x="362.47" y="217.77" width="7.61" height="8.56" fill="#e8e6e6"/>
<rect x="370.08" y="217.77" width="7.61" height="8.56" fill="#e8e6e6"/>
<rect x="377.69" y="217.77" width="7.61" height="8.56" fill="#e08668"/>
<rect x="385.30" y="217.77" width="7.61" height="8.56" fill="#b5c3e6"/>
<rect x="392.91" y="217.77" width="7.61" height="8.56" fill="#d8e0f2"/>
<rect x="400.52" y="217.77" width="7.61" height="8.56" fill="#ced8ef"/>
<rect x="408.13" y="217.77" width="7.61" height="8.56" fill="#e8e6e6"/>
<rect x="415.74" y="217.77" width="7.61" height="8.56" fill="#d8e0f2"/>
<rect x="423.35" y="217.77" width="7.61" height="8.56" fill="#eeb69c"/>
<rect x="430.96" y="217.77" width="7.61" height="8.56" fill="#6372bb"/>
<rect x="157.00" y="226.33" width="7.61" height="8.56" fill="#6372bb"/>
<rect x="164.61" y="226.33" width="7.61" height="8.56" fill="#8092cc"/>
<rect x="172.22" y="226.33" width="7.61" height="8.56" fill="#b0bee4"/>
<rect x="179.83" y="226.33" width="7.61" height="8.56" fill="#8c9fd3"/>
<rect x="187.44" y="226.33" width="7.61" height="8.56" fill="#f3d3c0"/>
<rect x="195.05" y="226.33" width="7.61" height="8.56" fill="#de7d60"/>
<rect x="202.66" y="226.33" width="7.61" height="8.56" fill="#e28a6c"/>
<rect x="210.27" y="226.33" width="7.61" height="8.56" fill="#f3cdb5"/>
<rect x="217.88" y="226.33" width="7.61" height="8.56" fill="#e79c7e"/>
<rect x="225.49" y="226.33" width="7.61" height="8.56" fill="#dee2ed"/>
<rect x="233.10" y="226.33" width="7.61" height="8.56" fill="#eee1d9"/>
<rect x="240.71" y="226.33" width="7.61" height="8.56" fill="#eee1d9"/>
<rect x="248.32" y="226.33" width="7.61" height="8.56" fill="#d8e0f2"/>
<rect x="255.93" y="226.33" width="7.61" height="8.56" fill="#eee1d9"/>
<rect x="263.54" y="226.33" width="7.61" height="8.56" fill="#e8e6e6"/>
<rect x="271.15" y="226.33" width="7.61" height="8.56" fill="#f2ddd0"/>
<rect x="278.76" y="226.33" width="7.61" height="8.56" fill="#f2ddd0"/>
<rect x="286.37" y="226.33" width="7.61" height="8.56" fill="#e28a6c"/>
<rect x="293.98" y="226.33" width="7.61" height="8.56" fill="#f2d7c5"/>
<rect x="301.59" y="226.33" width="7.61" height="8.56" fill="#bfcceb"/>
<rect x="309.20" y="226.33" width="7.61" height="8.56" fill="#e2e4eb"/>
<rect x="316.81" y="226.33" width="7.61" height="8.56" fill="#e8e6e6"/>
<rect x="324.42" y="226.33" width="7.61" height="8.56" fill="#ecb296"/>
<rect x="332.03" y="226.33" width="7.61" height="8.56" fill="#e9a487"/>
<rect x="339.64" y="226.33" width="7.61" height="8.56" fill="#e8e6e6"/>
<rect x="347.25" y="226.33" width="7.61" height="8.56" fill="#dbe1f0"/>
<rect x="354.86" y="226.33" width="7.61" height="8.56" fill="#9bacda"/>
<rect x="362.47" y="226.33" width="7.61" height="8.56" fill="#d8e0f2"/>
<rect x="370.08" y="226.33" width="7.61" height="8.56" fill="#5d6ab5"/>
<rect x="377.69" y="226.33" width="7.61" height="8.56" fill="#f2ddd0"/>
<rect x="385.30" y="226.33" width="7.61" height="8.56" fill="#d3dcf1"/>
<rect x="392.91" y="226.33" width="7.61" height="8.56" fill="#5d6ab5"/>
<rect x="400.52" y="226.33" width="7.61" height="8.56" fill="#7888c7"/>
<rect x="408.13" y="226.33" width="7.61" height="8.56" fill="#eee1d9"/>
<rect x="415.74" y="226.33" width="7.61" height="8.56" fill="#f2ddd0"/>
<rect x="423.35" y="226.33" width="7.61" height="8.56" fill="#bf3d30"/>
<rect x="430.96" y="226.33" width="7.61" height="8.56" fill="#bf3d30"/>
<rect x="157.00" y="234.88" width="7.61" height="8.56" fill="#9bacda"/>
<rect x="164.61" y="234.88" width="7.61" height="8.56" fill="#d8e0f2"/>
<rect x="172.22" y="234.88" width="7.61" height="8.56" fill="#b0bee4"/>
<rect x="179.83" y="234.88" width="7.61" height="8.56" fill="#bfcceb"/>
<rect x="187.44" y="234.88" width="7.61" height="8.56" fill="#a6b6df"/>
<rect x="195.05" y="234.88" width="7.61" height="8.56" fill="#e8e6e6"/>
<rect x="202.66" y="234.88" width="7.61" height="8.56" fill="#eee1d9"/>
<rect x="210.27" y="234.88" width="7.61" height="8.56" fill="#d8e0f2"/>
<rect x="217.88" y="234.88" width="7.61" height="8.56" fill="#eee1d9"/>
<rect x="225.49" y="234.88" width="7.61" height="8.56" fill="#6b7bc0"/>
<rect x="233.10" y="234.88" width="7.61" height="8.56" fill="#f2d7c5"/>
<rect x="240.71" y="234.88" width="7.61" height="8.56" fill="#f2ddd0"/>
<rect x="248.32" y="234.88" width="7.61" height="8.56" fill="#d8e0f2"/>
<rect x="255.93" y="234.88" width="7.61" height="8.56" fill="#b0bee4"/>
<rect x="263.54" y="234.88" width="7.61" height="8.56" fill="#dee2ed"/>
<rect x="271.15" y="234.88" width="7.61" height="8.56" fill="#f2d7c5"/>
<rect x="278.76" y="234.88" width="7.61" height="8.56" fill="#f2d7c5"/>
<rect x="286.37" y="234.88" width="7.61" height="8.56" fill="#dc785b"/>
<rect x="293.98" y="234.88" width="7.61" height="8.56" fill="#eee1d9"/>
<rect x="301.59" y="234.88" width="7.61" height="8.56" fill="#ced8ef"/>
<rect x="309.20" y="234.88" width="7.61" height="8.56" fill="#f3cdb5"/>
<rect x="316.81" y="234.88" width="7.61" height="8.56" fill="#f2ddd0"/>
<rect x="324.42" y="234.88" width="7.61" height="8.56" fill="#eee1d9"/>
<rect x="332.03" y="234.88" width="7.61" height="8.56" fill="#d8e0f2"/>
<rect x="339.64" y="234.88" width="7.61" height="8.56" fill="#f1c4ab"/>
<rect x="347.25" y="234.88" width="7.61" height="8.56" fill="#889ad1"/>
<rect x="354.86" y="234.88" width="7.61" height="8.56" fill="#dee2ed"/>
<rect x="362.47" y="234.88" width="7.61" height="8.56" fill="#96a8d8"/>
<rect x="370.08" y="234.88" width="7.61" height="8.56" fill="#b0bee4"/>
<rect x="377.69" y="234.88" width="7.61" height="8.56" fill="#d8e0f2"/>
<rect x="385.30" y="234.88" width="7.61" height="8.56" fill="#bfcceb"/>
<rect x="392.91" y="234.88" width="7.61" height="8.56" fill="#e8e6e6"/>
<rect x="400.52" y="234.88" width="7.61" height="8.56" fill="#f2d7c5"/>
<rect x="408.13" y="234.88" width="7.61" height="8.56" fill="#e49375"/>
<rect x="415.74" y="234.88" width="7.61" height="8.56" fill="#eeb69c"/>
<rect x="423.35" y="234.88" width="7.61" height="8.56" fill="#bf3d30"/>
<rect x="430.96" y="234.88" width="7.61" height="8.56" fill="#bf3d30"/>
<rect x="157.00" y="243.44" width="7.61" height="8.56" fill="#d8e0f2"/>
<rect x="164.61" y="243.44" width="7.61" height="8.56" fill="#d8e0f2"/>
<rect x="172.22" y="243.44" width="7.61" height="8.56" fill="#f3cdb5"/>
<rect x="179.83" y="243.44" width="7.61" height="8.56" fill="#d8e0f2"/>
<rect x="187.44" y="243.44" width="7.61" height="8.56" fill="#a0b1dd"/>
<rect x="195.05" y="243.44" width="7.61" height="8.56" fill="#a6b6df"/>
<rect x="202.66" y="243.44" width="7.61" height="8.56" fill="#e8e6e6"/>
<rect x="210.27" y="243.44" width="7.61" height="8.56" fill="#a6b6df"/>
<rect x="217.88" y="243.44" width="7.61" height="8.56" fill="#a6b6df"/>
<rect x="225.49" y="243.44" width="7.61" height="8.56" fill="#d8e0f2"/>
<rect x="233.10" y="243.44" width="7.61" height="8.56" fill="#eeb69c"/>
<rect x="240.71" y="243.44" width="7.61" height="8.56" fill="#f2ddd0"/>
<rect x="248.32" y="243.44" width="7.61" height="8.56" fill="#e8e6e6"/>
<rect x="255.93" y="243.44" width="7.61" height="8.56" fill="#8c9fd3"/>
<rect x="263.54" y="243.44" width="7.61" height="8.56" fill="#a6b6df"/>
<rect x="271.15" y="243.44" width="7.61" height="8.56" fill="#7888c7"/>
<rect x="278.76" y="243.44" width="7.61" height="8.56" fill="#454a9f"/>
<rect x="286.37" y="243.44" width="7.61" height="8.56" fill="#e28a6c"/>
<rect x="293.98" y="243.44" width="7.61" height="8.56" fill="#f3cdb5"/>
<rect x="301.59" y="243.44" width="7.61" height="8.56" fill="#dee2ed"/>
<rect x="309.20" y="243.44" width="7.61" height="8.56" fill="#8c9fd3"/>
<rect x="316.81" y="243.44" width="7.61" height="8.56" fill="#d8e0f2"/>
<rect x="324.42" y="243.44" width="7.61" height="8.56" fill="#f2d7c5"/>
<rect x="332.03" y="243.44" width="7.61" height="8.56" fill="#f0c0a6"/>
<rect x="339.64" y="243.44" width="7.61" height="8.56" fill="#f3cdb5"/>
<rect x="347.25" y="243.44" width="7.61" height="8.56" fill="#e8e6e6"/>
<rect x="354.86" y="243.44" width="7.61" height="8.56" fill="#96a8d8"/>
<rect x="362.47" y="243.44" width="7.61" height="8.56" fill="#f2d7c5"/>
<rect x="370.08" y="243.44" width="7.61" height="8.56" fill="#f2d7c5"/>
<rect x="377.69" y="243.44" width="7.61" height="8.56" fill="#ece2dd"/>
<rect x="385.30" y="243.44" width="7.61" height="8.56" fill="#eeb69c"/>
<rect x="392.91" y="243.44" width="7.61" height="8.56" fill="#bf3d30"/>
<rect x="400.52" y="243.44" width="7.61" height="8.56" fill="#db7457"/>
<rect x="408.13" y="243.44" width="7.61" height="8.56" fill="#db7457"/>
<rect x="415.74" y="243.44" width="7.61" height="8.56" fill="#eeb69c"/>
<rect x="423.35" y="243.44" width="7.61" height="8.56" fill="#e8a082"/>
<rect x="430.96" y="243.44" width="7.61" height="8.56" fill="#f2ddd0"/>
<rect x="157.00" y="252.00" width="7.61" height="8.56" fill="#f3d3c0"/>
<rect x="164.61" y="252.00" width="7.61" height="8.56" fill="#e8e6e6"/>
<rect x="172.22" y="252.00" width="7.61" height="8.56" fill="#a6b6df"/>
<rect x="179.83" y="252.00" width="7.61" height="8.56" fill="#6372bb"/>
<rect x="187.44" y="252.00" width="7.61" height="8.56" fill="#a6b6df"/>
<rect x="195.05" y="252.00" width="7.61" height="8.56" fill="#bfcceb"/>
<rect x="202.66" y="252.00" width="7.61" height="8.56" fill="#ece2dd"/>
<rect x="210.27" y="252.00" width="7.61" height="8.56" fill="#bfcceb"/>
<rect x="217.88" y="252.00" width="7.61" height="8.56" fill="#bfcceb"/>
<rect x="225.49" y="252.00" width="7.61" height="8.56" fill="#7888c7"/>
<rect x="233.10" y="252.00" width="7.61" height="8.56" fill="#d8e0f2"/>
<rect x="240.71" y="252.00" width="7.61" height="8.56" fill="#e8e6e6"/>
<rect x="248.32" y="252.00" width="7.61" height="8.56" fill="#d8e0f2"/>
<rect x="255.93" y="252.00" width="7.61" height="8.56" fill="#91a4d5"/>
<rect x="263.54" y="252.00" width="7.61" height="8.56" fill="#8c9fd3"/>
<rect x="271.15" y="252.00" width="7.61" height="8.56" fill="#8c9fd3"/>
<rect x="278.76" y="252.00" width="7.61" height="8.56" fill="#d8e0f2"/>
<rect x="286.37" y="252.00" width="7.61" height="8.56" fill="#c54838"/>
<rect x="293.98" y="252.00" width="7.61" height="8.56" fill="#ebae91"/>
<rect x="301.59" y="252.00" width="7.61" height="8.56" fill="#bfcceb"/>
<rect x="309.20" y="252.00" width="7.61" height="8.56" fill="#8c9fd3"/>
<rect x="316.81" y="252.00" width="7.61" height="8.56" fill="#e8e6e6"/>
<rect x="324.42" y="252.00" width="7.61" height="8.56" fill="#e59779"/>
<rect x="332.03" y="252.00" width="7.61" height="8.56" fill="#e8e6e6"/>
<rect x="339.64" y="252.00" width="7.61" height="8.56" fill="#ece2dd"/>
<rect x="347.25" y="252.00" width="7.61" height="8.56" fill="#ebae91"/>
<rect x="354.86" y="252.00" width="7.61" height="8.56" fill="#f0c0a6"/>
<rect x="362.47" y="252.00" width="7.61" height="8.56" fill="#e8e6e6"/>
<rect x="370.08" y="252.00" width="7.61" height="8.56" fill="#bfcceb"/>
<rect x="377.69" y="252.00" width="7.61" height="8.56" fill="#d8e0f2"/>
<rect x="385.30" y="252.00" width="7.61" height="8.56" fill="#e8e6e6"/>
<rect x="392.91" y="252.00" width="7.61" height="8.56" fill="#e28a6c"/>
<rect x="400.52" y="252.00" width="7.61" height="8.56" fill="#cd5844"/>
<rect x="408.13" y="252.00" width="7.61" height="8.56" fill="#bf3d30"/>
<rect x="415.74" y="252.00" width="7.61" height="8.56" fill="#cd5844"/>
<rect x="423.35" y="252.00" width="7.61" height="8.56" fill="#eaa98c"/>
<rect x="430.96" y="252.00" width="7.61" height="8.56" fill="#eeb69c"/>
<rect x="157.00" y="260.55" width="7.61" height="8.56" fill="#eeb69c"/>
<rect x="164.61" y="260.55" width="7.61" height="8.56" fill="#8c9fd3"/>
<rect x="172.22" y="260.55" width="7.61" height="8.56" fill="#d8e0f2"/>
<rect x="179.83" y="260.55" width="7.61" height="8.56" fill="#8c9fd3"/>
<rect x="187.44" y="260.55" width="7.61" height="8.56" fill="#6372bb"/>
<rect x="195.05" y="260.55" width="7.61" height="8.56" fill="#bfcceb"/>
<rect x="202.66" y="260.55" width="7.61" height="8.56" fill="#bfcceb"/>
<rect x="210.27" y="260.55" width="7.61" height="8.56" fill="#8c9fd3"/>
<rect x="217.88" y="260.55" width="7.61" height="8.56" fill="#8c9fd3"/>
<rect x="225.49" y="260.55" width="7.61" height="8.56" fill="#d8e0f2"/>
<rect x="233.10" y="260.55" width="7.61" height="8.56" fill="#eee1d9"/>
<rect x="240.71" y="260.55" width="7.61" height="8.56" fill="#e8e6e6"/>
<rect x="248.32" y="260.55" width="7.61" height="8.56" fill="#ced8ef"/>
<rect x="255.93" y="260.55" width="7.61" height="8.56" fill="#bfcceb"/>
<rect x="263.54" y="260.55" width="7.61" height="8.56" fill="#8c9fd3"/>
<rect x="271.15" y="260.55" width="7.61" height="8.56" fill="#545ead"/>
<rect x="278.76" y="260.55" width="7.61" height="8.56" fill="#ced8ef"/>
<rect x="286.37" y="260.55" width="7.61" height="8.56" fill="#e8a082"/>
<rect x="293.98" y="260.55" width="7.61" height="8.56" fill="#eeb69c"/>
<rect x="301.59" y="260.55" width="7.61" height="8.56" fill="#d8e0f2"/>
<rect x="309.20" y="260.55" width="7.61" height="8.56" fill="#ced8ef"/>
<rect x="316.81" y="260.55" width="7.61" height="8.56" fill="#db7457"/>
<rect x="324.42" y="260.55" width="7.61" height="8.56" fill="#e8a082"/>
<rect x="332.03" y="260.55" width="7.61" height="8.56" fill="#ece2dd"/>
<rect x="339.64" y="260.55" width="7.61" height="8.56" fill="#f3cdb5"/>
<rect x="347.25" y="260.55" width="7.61" height="8.56" fill="#db7457"/>
<rect x="354.86" y="260.55" width="7.61" height="8.56" fill="#e8e6e6"/>
<rect x="362.47" y="260.55" width="7.61" height="8.56" fill="#e8e6e6"/>
<rect x="370.08" y="260.55" width="7.61" height="8.56" fill="#eee1d9"/>
<rect x="377.69" y="260.55" width="7.61" height="8.56" fill="#d8e0f2"/>
<rect x="385.30" y="260.55" width="7.61" height="8.56" fill="#e8e6e6"/>
<rect x="392.91" y="260.55" width="7.61" height="8.56" fill="#ebae91"/>
<rect x="400.52" y="260.55" width="7.61" height="8.56" fill="#e49375"/>
<rect x="408.13" y="260.55" width="7.61" height="8.56" fill="#cd5844"/>
<rect x="415.74" y="260.55" width="7.61" height="8.56" fill="#cd5844"/>
<rect x="423.35" y="260.55" width="7.61" height="8.56" fill="#eeb69c"/>
<rect x="430.96" y="260.55" width="7.61" height="8.56" fill="#f2ddd0"/>
<rect x="157.00" y="269.11" width="7.61" height="8.56" fill="#a6b6df"/>
<rect x="164.61" y="269.11" width="7.61" height="8.56" fill="#bfcceb"/>
<rect x="172.22" y="269.11" width="7.61" height="8.56" fill="#a6b6df"/>
<rect x="179.83" y="269.11" width="7.61" height="8.56" fill="#6b7bc0"/>
<rect x="187.44" y="269.11" width="7.61" height="8.56" fill="#96a8d8"/>
<rect x="195.05" y="269.11" width="7.61" height="8.56" fill="#8c9fd3"/>
<rect x="202.66" y="269.11" width="7.61" height="8.56" fill="#e8e6e6"/>
<rect x="210.27" y="269.11" width="7.61" height="8.56" fill="#bfcceb"/>
<rect x="217.88" y="269.11" width="7.61" height="8.56" fill="#bfcceb"/>
<rect x="225.49" y="269.11" width="7.61" height="8.56" fill="#e8e6e6"/>
<rect x="233.10" y="269.11" width="7.61" height="8.56" fill="#a6b6df"/>
<rect x="240.71" y="269.11" width="7.61" height="8.56" fill="#d8e0f2"/>
<rect x="248.32" y="269.11" width="7.61" height="8.56" fill="#ced8ef"/>
<rect x="255.93" y="269.11" width="7.61" height="8.56" fill="#a6b6df"/>
<rect x="263.54" y="269.11" width="7.61" height="8.56" fill="#8c9fd3"/>
<rect x="271.15" y="269.11" width="7.61" height="8.56" fill="#545ead"/>
<rect x="278.76" y="269.11" width="7.61" height="8.56" fill="#ced8ef"/>
<rect x="286.37" y="269.11" width="7.61" height="8.56" fill="#eeb69c"/>
<rect x="293.98" y="269.11" width="7.61" height="8.56" fill="#db7457"/>
<rect x="301.59" y="269.11" width="7.61" height="8.56" fill="#f3cdb5"/>
<rect x="309.20" y="269.11" width="7.61" height="8.56" fill="#f3cdb5"/>
<rect x="316.81" y="269.11" width="7.61" height="8.56" fill="#db7457"/>
<rect x="324.42" y="269.11" width="7.61" height="8.56" fill="#db7457"/>
<rect x="332.03" y="269.11" width="7.61" height="8.56" fill="#bf3d30"/>
<rect x="339.64" y="269.11" width="7.61" height="8.56" fill="#df8164"/>
<rect x="347.25" y="269.11" width="7.61" height="8.56" fill="#f0dfd4"/>
<rect x="354.86" y="269.11" width="7.61" height="8.56" fill="#f2ddd0"/>
<rect x="362.47" y="269.11" width="7.61" height="8.56" fill="#dee2ed"/>
<rect x="370.08" y="269.11" width="7.61" height="8.56" fill="#f2d7c5"/>
<rect x="377.69" y="269.11" width="7.61" height="8.56" fill="#bfcceb"/>
<rect x="385.30" y="269.11" width="7.61" height="8.56" fill="#f3cdb5"/>
<rect x="392.91" y="269.11" width="7.61" height="8.56" fill="#eeb69c"/>
<rect x="400.52" y="269.11" width="7.61" height="8.56" fill="#f2ddd0"/>
<rect x="408.13" y="269.11" width="7.61" height="8.56" fill="#bf3d30"/>
<rect x="415.74" y="269.11" width="7.61" height="8.56" fill="#e28a6c"/>
<rect x="423.35" y="269.11" width="7.61" height="8.56" fill="#eee1d9"/>
<rect x="430.96" y="269.11" width="7.61" height="8.56" fill="#e8e6e6"/>
<rect x="157.00" y="277.66" width="7.61" height="8.56" fill="#f3cdb5"/>
<rect x="164.61" y="277.66" width="7.61" height="8.56" fill="#a6b6df"/>
<rect x="172.22" y="277.66" width="7.61" height="8.56" fill="#f2d7c5"/>
<rect x="179.83" y="277.66" width="7.61" height="8.56" fill="#bfcceb"/>
<rect x="187.44" y="277.66" width="7.61" height="8.56" fill="#8c9fd3"/>
<rect x="195.05" y="277.66" width="7.61" height="8.56" fill="#8496ce"/>
<rect x="202.66" y="277.66" width="7.61" height="8.56" fill="#dee2ed"/>
<rect x="210.27" y="277.66" width="7.61" height="8.56" fill="#bfcceb"/>
<rect x="217.88" y="277.66" width="7.61" height="8.56" fill="#bfcceb"/>
<rect x="225.49" y="277.66" width="7.61" height="8.56" fill="#eee1d9"/>
<rect x="233.10" y="277.66" width="7.61" height="8.56" fill="#bfcceb"/>
<rect x="240.71" y="277.66" width="7.61" height="8.56" fill="#bfcceb"/>
<rect x="248.32" y="277.66" width="7.61" height="8.56" fill="#a6b6df"/>
<rect x="255.93" y="277.66" width="7.61" height="8.56" fill="#bfcceb"/>
<rect x="263.54" y="277.66" width="7.61" height="8.56" fill="#8c9fd3"/>
<rect x="271.15" y="277.66" width="7.61" height="8.56" fill="#454a9f"/>
<rect x="278.76" y="277.66" width="7.61" height="8.56" fill="#8c9fd3"/>
<rect x="286.37" y="277.66" width="7.61" height="8.56" fill="#eeb69c"/>
<rect x="293.98" y="277.66" width="7.61" height="8.56" fill="#db7457"/>
<rect x="301.59" y="277.66" width="7.61" height="8.56" fill="#cd5844"/>
<rect x="309.20" y="277.66" width="7.61" height="8.56" fill="#db7457"/>
<rect x="316.81" y="277.66" width="7.61" height="8.56" fill="#cd5844"/>
<rect x="324.42" y="277.66" width="7.61" height="8.56" fill="#db7457"/>
<rect x="332.03" y="277.66" width="7.61" height="8.56" fill="#f3cdb5"/>
<rect x="339.64" y="277.66" width="7.61" height="8.56" fill="#eae4e2"/>
<rect x="347.25" y="277.66" width="7.61" height="8.56" fill="#f2d7c5"/>
<rect x="354.86" y="277.66" width="7.61" height="8.56" fill="#a6b6df"/>
<rect x="362.47" y="277.66" width="7.61" height="8.56" fill="#9bacda"/>
<rect x="370.08" y="277.66" width="7.61" height="8.56" fill="#f2ddd0"/>
<rect x="377.69" y="277.66" width="7.61" height="8.56" fill="#f2dacb"/>
<rect x="385.30" y="277.66" width="7.61" height="8.56" fill="#f3cdb5"/>
<rect x="392.91" y="277.66" width="7.61" height="8.56" fill="#ece2dd"/>
<rect x="400.52" y="277.66" width="7.61" height="8.56" fill="#ced8ef"/>
<rect x="408.13" y="277.66" width="7.61" height="8.56" fill="#f2ddd0"/>
<rect x="415.74" y="277.66" width="7.61" height="8.56" fill="#cd5844"/>
<rect x="423.35" y="277.66" width="7.61" height="8.56" fill="#eeb69c"/>
<rect x="430.96" y="277.66" width="7.61" height="8.56" fill="#f2d7c5"/>
<rect x="157.00" y="286.22" width="7.61" height="8.56" fill="#f2dacb"/>
<rect x="164.61" y="286.22" width="7.61" height="8.56" fill="#d8e0f2"/>
<rect x="172.22" y="286.22" width="7.61" height="8.56" fill="#e8e6e6"/>
<rect x="179.83" y="286.22" width="7.61" height="8.56" fill="#b5c3e6"/>
<rect x="187.44" y="286.22" width="7.61" height="8.56" fill="#6b7bc0"/>
<rect x="195.05" y="286.22" width="7.61" height="8.56" fill="#6372bb"/>
<rect x="202.66" y="286.22" width="7.61" height="8.56" fill="#f2ddd0"/>
<rect x="210.27" y="286.22" width="7.61" height="8.56" fill="#d8e0f2"/>
<rect x="217.88" y="286.22" width="7.61" height="8.56" fill="#7888c7"/>
<rect x="225.49" y="286.22" width="7.61" height="8.56" fill="#a6b6df"/>
<rect x="233.10" y="286.22" width="7.61" height="8.56" fill="#eee1d9"/>
<rect x="240.71" y="286.22" width="7.61" height="8.56" fill="#9bacda"/>
<rect x="248.32" y="286.22" width="7.61" height="8.56" fill="#bfcceb"/>
<rect x="255.93" y="286.22" width="7.61" height="8.56" fill="#5d6ab5"/>
<rect x="263.54" y="286.22" width="7.61" height="8.56" fill="#8496ce"/>
<rect x="271.15" y="286.22" width="7.61" height="8.56" fill="#8c9fd3"/>
<rect x="278.76" y="286.22" width="7.61" height="8.56" fill="#bfcceb"/>
<rect x="286.37" y="286.22" width="7.61" height="8.56" fill="#e8a082"/>
<rect x="293.98" y="286.22" width="7.61" height="8.56" fill="#e59779"/>
<rect x="301.59" y="286.22" width="7.61" height="8.56" fill="#e59779"/>
<rect x="309.20" y="286.22" width="7.61" height="8.56" fill="#cd5844"/>
<rect x="316.81" y="286.22" width="7.61" height="8.56" fill="#f3d3c0"/>
<rect x="324.42" y="286.22" width="7.61" height="8.56" fill="#db7457"/>
<rect x="332.03" y="286.22" width="7.61" height="8.56" fill="#f2d7c5"/>
<rect x="339.64" y="286.22" width="7.61" height="8.56" fill="#f0dfd4"/>
<rect x="347.25" y="286.22" width="7.61" height="8.56" fill="#dee2ed"/>
<rect x="354.86" y="286.22" width="7.61" height="8.56" fill="#d8e0f2"/>
<rect x="362.47" y="286.22" width="7.61" height="8.56" fill="#7384c5"/>
<rect x="370.08" y="286.22" width="7.61" height="8.56" fill="#e8e6e6"/>
<rect x="377.69" y="286.22" width="7.61" height="8.56" fill="#e8e6e6"/>
<rect x="385.30" y="286.22" width="7.61" height="8.56" fill="#f2d7c5"/>
<rect x="392.91" y="286.22" width="7.61" height="8.56" fill="#f0c0a6"/>
<rect x="400.52" y="286.22" width="7.61" height="8.56" fill="#f3d3c0"/>
<rect x="408.13" y="286.22" width="7.61" height="8.56" fill="#eeb69c"/>
<rect x="415.74" y="286.22" width="7.61" height="8.56" fill="#e8a082"/>
<rect x="423.35" y="286.22" width="7.61" height="8.56" fill="#d5694f"/>
<rect x="430.96" y="286.22" width="7.61" height="8.56" fill="#f0c0a6"/>
<rect x="157.00" y="294.78" width="7.61" height="8.56" fill="#545ead"/>
<rect x="164.61" y="294.78" width="7.61" height="8.56" fill="#6b7bc0"/>
<rect x="172.22" y="294.78" width="7.61" height="8.56" fill="#454a9f"/>
<rect x="179.83" y="294.78" width="7.61" height="8.56" fill="#9bacda"/>
<rect x="187.44" y="294.78" width="7.61" height="8.56" fill="#8c9fd3"/>
<rect x="195.05" y="294.78" width="7.61" height="8.56" fill="#bfcceb"/>
<rect x="202.66" y="294.78" width="7.61" height="8.56" fill="#e8e6e6"/>
<rect x="210.27" y="294.78" width="7.61" height="8.56" fill="#bfcceb"/>
<rect x="217.88" y="294.78" width="7.61" height="8.56" fill="#bfcceb"/>
<rect x="225.49" y="294.78" width="7.61" height="8.56" fill="#f3d3c0"/>
<rect x="233.10" y="294.78" width="7.61" height="8.56" fill="#f3d3c0"/>
<rect x="240.71" y="294.78" width="7.61" height="8.56" fill="#d8e0f2"/>
<rect x="248.32" y="294.78" width="7.61" height="8.56" fill="#d8e0f2"/>
<rect x="255.93" y="294.78" width="7.61" height="8.56" fill="#b5c3e6"/>
<rect x="263.54" y="294.78" width="7.61" height="8.56" fill="#a6b6df"/>
<rect x="271.15" y="294.78" width="7.61" height="8.56" fill="#7888c7"/>
<rect x="278.76" y="294.78" width="7.61" height="8.56" fill="#dee2ed"/>
<rect x="286.37" y="294.78" width="7.61" height="8.56" fill="#f2ddd0"/>
<rect x="293.98" y="294.78" width="7.61" height="8.56" fill="#eaa98c"/>
<rect x="301.59" y="294.78" width="7.61" height="8.56" fill="#e8e6e6"/>
<rect x="309.20" y="294.78" width="7.61" height="8.56" fill="#eee1d9"/>
<rect x="316.81" y="294.78" width="7.61" height="8.56" fill="#df8164"/>
<rect x="324.42" y="294.78" width="7.61" height="8.56" fill="#eeb69c"/>
<rect x="332.03" y="294.78" width="7.61" height="8.56" fill="#eeb69c"/>
<rect x="339.64" y="294.78" width="7.61" height="8.56" fill="#e59779"/>
<rect x="347.25" y="294.78" width="7.61" height="8.56" fill="#eeb69c"/>
<rect x="354.86" y="294.78" width="7.61" height="8.56" fill="#f3cdb5"/>
<rect x="362.47" y="294.78" width="7.61" height="8.56" fill="#f2ddd0"/>
<rect x="370.08" y="294.78" width="7.61" height="8.56" fill="#ecb296"/>
<rect x="377.69" y="294.78" width="7.61" height="8.56" fill="#e28a6c"/>
<rect x="385.30" y="294.78" width="7.61" height="8.56" fill="#ece2dd"/>
<rect x="392.91" y="294.78" width="7.61" height="8.56" fill="#ece2dd"/>
<rect x="400.52" y="294.78" width="7.61" height="8.56" fill="#eeb69c"/>
<rect x="408.13" y="294.78" width="7.61" height="8.56" fill="#e28a6c"/>
<rect x="415.74" y="294.78" width="7.61" height="8.56" fill="#f3cdb5"/>
<rect x="423.35" y="294.78" width="7.61" height="8.56" fill="#f2ddd0"/>
<rect x="430.96" y="294.78" width="7.61" height="8.56" fill="#eeb69c"/>
<rect x="157.00" y="303.33" width="7.61" height="8.56" fill="#9bacda"/>
<rect x="164.61" y="303.33" width="7.61" height="8.56" fill="#7384c5"/>
<rect x="172.22" y="303.33" width="7.61" height="8.56" fill="#454a9f"/>
<rect x="179.83" y="303.33" width="7.61" height="8.56" fill="#8c9fd3"/>
<rect x="187.44" y="303.33" width="7.61" height="8.56" fill="#6b7bc0"/>
<rect x="195.05" y="303.33" width="7.61" height="8.56" fill="#bfcceb"/>
<rect x="202.66" y="303.33" width="7.61" height="8.56" fill="#d8e0f2"/>
<rect x="210.27" y="303.33" width="7.61" height="8.56" fill="#bfcceb"/>
<rect x="217.88" y="303.33" width="7.61" height="8.56" fill="#8c9fd3"/>
<rect x="225.49" y="303.33" width="7.61" height="8.56" fill="#f2d7c5"/>
<rect x="233.10" y="303.33" width="7.61" height="8.56" fill="#f3d3c0"/>
<rect x="240.71" y="303.33" width="7.61" height="8.56" fill="#d8e0f2"/>
<rect x="248.32" y="303.33" width="7.61" height="8.56" fill="#d8e0f2"/>
<rect x="255.93" y="303.33" width="7.61" height="8.56" fill="#b5c3e6"/>
<rect x="263.54" y="303.33" width="7.61" height="8.56" fill="#96a8d8"/>
<rect x="271.15" y="303.33" width="7.61" height="8.56" fill="#6372bb"/>
<rect x="278.76" y="303.33" width="7.61" height="8.56" fill="#f2ddd0"/>
<rect x="286.37" y="303.33" width="7.61" height="8.56" fill="#f2ddd0"/>
<rect x="293.98" y="303.33" width="7.61" height="8.56" fill="#eeb69c"/>
<rect x="301.59" y="303.33" width="7.61" height="8.56" fill="#d8e0f2"/>
<rect x="309.20" y="303.33" width="7.61" height="8.56" fill="#e8e6e6"/>
<rect x="316.81" y="303.33" width="7.61" height="8.56" fill="#e8a082"/>
<rect x="324.42" y="303.33" width="7.61" height="8.56" fill="#eaa98c"/>
<rect x="332.03" y="303.33" width="7.61" height="8.56" fill="#eeb69c"/>
<rect x="339.64" y="303.33" width="7.61" height="8.56" fill="#e49375"/>
<rect x="347.25" y="303.33" width="7.61" height="8.56" fill="#e79c7e"/>
<rect x="354.86" y="303.33" width="7.61" height="8.56" fill="#eee1d9"/>
<rect x="362.47" y="303.33" width="7.61" height="8.56" fill="#f3d3c0"/>
<rect x="370.08" y="303.33" width="7.61" height="8.56" fill="#e9a487"/>
<rect x="377.69" y="303.33" width="7.61" height="8.56" fill="#df8164"/>
<rect x="385.30" y="303.33" width="7.61" height="8.56" fill="#f2ddd0"/>
<rect x="392.91" y="303.33" width="7.61" height="8.56" fill="#ece2dd"/>
<rect x="400.52" y="303.33" width="7.61" height="8.56" fill="#eeb69c"/>
<rect x="408.13" y="303.33" width="7.61" height="8.56" fill="#e28a6c"/>
<rect x="415.74" y="303.33" width="7.61" height="8.56" fill="#f3cdb5"/>
<rect x="423.35" y="303.33" width="7.61" height="8.56" fill="#f2d7c5"/>
<rect x="430.96" y="303.33" width="7.61" height="8.56" fill="#eeb69c"/>
<rect x="157.00" y="311.89" width="7.61" height="8.56" fill="#bfcceb"/>
<rect x="164.61" y="311.89" width="7.61" height="8.56" fill="#d8e0f2"/>
<rect x="172.22" y="311.89" width="7.61" height="8.56" fill="#d8e0f2"/>
<rect x="179.83" y="311.89" width="7.61" height="8.56" fill="#9bacda"/>
<rect x="187.44" y="311.89" width="7.61" height="8.56" fill="#7888c7"/>
<rect x="195.05" y="311.89" width="7.61" height="8.56" fill="#eee1d9"/>
<rect x="202.66" y="311.89" width="7.61" height="8.56" fill="#d8e0f2"/>
<rect x="210.27" y="311.89" width="7.61" height="8.56" fill="#f3d3c0"/>
<rect x="217.88" y="311.89" width="7.61" height="8.56" fill="#bfcceb"/>
<rect x="225.49" y="311.89" width="7.61" height="8.56" fill="#ced8ef"/>
<rect x="233.10" y="311.89" width="7.61" height="8.56" fill="#454a9f"/>
<rect x="240.71" y="311.89" width="7.61" height="8.56" fill="#bfcceb"/>
<rect x="248.32" y="311.89" width="7.61" height="8.56" fill="#f2d7c5"/>
<rect x="255.93" y="311.89" width="7.61" height="8.56" fill="#d8e0f2"/>
<rect x="263.54" y="311.89" width="7.61" height="8.56" fill="#d8e0f2"/>
<rect x="271.15" y="311.89" width="7.61" height="8.56" fill="#d8e0f2"/>
<rect x="278.76" y="311.89" width="7.61" height="8.56" fill="#eeb69c"/>
<rect x="286.37" y="311.89" width="7.61" height="8.56" fill="#f2ddd0"/>
<rect x="293.98" y="311.89" width="7.61" height="8.56" fill="#e28a6c"/>
<rect x="301.59" y="311.89" width="7.61" height="8.56" fill="#f3cdb5"/>
<rect x="309.20" y="311.89" width="7.61" height="8.56" fill="#eaa98c"/>
<rect x="316.81" y="311.89" width="7.61" height="8.56" fill="#e28a6c"/>
<rect x="324.42" y="311.89" width="7.61" height="8.56" fill="#e8a082"/>
<rect x="332.03" y="311.89" width="7.61" height="8.56" fill="#f2ddd0"/>
<rect x="339.64" y="311.89" width="7.61" height="8.56" fill="#db7457"/>
<rect x="347.25" y="311.89" width="7.61" height="8.56" fill="#f2ddd0"/>
<rect x="354.86" y="311.89" width="7.61" height="8.56" fill="#f2d7c5"/>
<rect x="362.47" y="311.89" width="7.61" height="8.56" fill="#e9a487"/>
<rect x="370.08" y="311.89" width="7.61" height="8.56" fill="#db7457"/>
<rect x="377.69" y="311.89" width="7.61" height="8.56" fill="#eee1d9"/>
<rect x="385.30" y="311.89" width="7.61" height="8.56" fill="#f3cdb5"/>
<rect x="392.91" y="311.89" width="7.61" height="8.56" fill="#454a9f"/>
<rect x="400.52" y="311.89" width="7.61" height="8.56" fill="#b5c3e6"/>
<rect x="408.13" y="311.89" width="7.61" height="8.56" fill="#d8e0f2"/>
<rect x="415.74" y="311.89" width="7.61" height="8.56" fill="#e8e6e6"/>
<rect x="423.35" y="311.89" width="7.61" height="8.56" fill="#e8e6e6"/>
<rect x="430.96" y="311.89" width="7.61" height="8.56" fill="#d8e0f2"/>
<rect x="157.00" y="320.44" width="7.61" height="8.56" fill="#f2d7c5"/>
<rect x="164.61" y="320.44" width="7.61" height="8.56" fill="#bfcceb"/>
<rect x="172.22" y="320.44" width="7.61" height="8.56" fill="#d8e0f2"/>
<rect x="179.83" y="320.44" width="7.61" height="8.56" fill="#bf3d30"/>
<rect x="187.44" y="320.44" width="7.61" height="8.56" fill="#bf3d30"/>
<rect x="195.05" y="320.44" width="7.61" height="8.56" fill="#bf3d30"/>
<rect x="202.66" y="320.44" width="7.61" height="8.56" fill="#dbe1f0"/>
<rect x="210.27" y="320.44" width="7.61" height="8.56" fill="#eee1d9"/>
<rect x="217.88" y="320.44" width="7.61" height="8.56" fill="#e8e6e6"/>
<rect x="225.49" y="320.44" width="7.61" height="8.56" fill="#a6b6df"/>
<rect x="233.10" y="320.44" width="7.61" height="8.56" fill="#d8e0f2"/>
<rect x="240.71" y="320.44" width="7.61" height="8.56" fill="#db7457"/>
<rect x="248.32" y="320.44" width="7.61" height="8.56" fill="#f2ddd0"/>
<rect x="255.93" y="320.44" width="7.61" height="8.56" fill="#eeb69c"/>
<rect x="263.54" y="320.44" width="7.61" height="8.56" fill="#8092cc"/>
<rect x="271.15" y="320.44" width="7.61" height="8.56" fill="#7888c7"/>
<rect x="278.76" y="320.44" width="7.61" height="8.56" fill="#a6b6df"/>
<rect x="286.37" y="320.44" width="7.61" height="8.56" fill="#d8e0f2"/>
<rect x="293.98" y="320.44" width="7.61" height="8.56" fill="#bfcceb"/>
<rect x="301.59" y="320.44" width="7.61" height="8.56" fill="#bfcceb"/>
<rect x="309.20" y="320.44" width="7.61" height="8.56" fill="#96a8d8"/>
<rect x="316.81" y="320.44" width="7.61" height="8.56" fill="#d3dcf1"/>
<rect x="324.42" y="320.44" width="7.61" height="8.56" fill="#e8e6e6"/>
<rect x="332.03" y="320.44" width="7.61" height="8.56" fill="#eee1d9"/>
<rect x="339.64" y="320.44" width="7.61" height="8.56" fill="#dee2ed"/>
<rect x="347.25" y="320.44" width="7.61" height="8.56" fill="#96a8d8"/>
<rect x="354.86" y="320.44" width="7.61" height="8.56" fill="#bfcceb"/>
<rect x="362.47" y="320.44" width="7.61" height="8.56" fill="#d8e0f2"/>
<rect x="370.08" y="320.44" width="7.61" height="8.56" fill="#e8e6e6"/>
<rect x="377.69" y="320.44" width="7.61" height="8.56" fill="#7384c5"/>
<rect x="385.30" y="320.44" width="7.61" height="8.56" fill="#bf3d30"/>
<rect x="392.91" y="320.44" width="7.61" height="8.56" fill="#f0c0a6"/>
<rect x="400.52" y="320.44" width="7.61" height="8.56" fill="#f2ddd0"/>
<rect x="408.13" y="320.44" width="7.61" height="8.56" fill="#eee1d9"/>
<rect x="415.74" y="320.44" width="7.61" height="8.56" fill="#e8e6e6"/>
<rect x="423.35" y="320.44" width="7.61" height="8.56" fill="#f3cdb5"/>
<rect x="430.96" y="320.44" width="7.61" height="8.56" fill="#b5c3e6"/>
<rect x="157.00" y="329.00" width="7.61" height="8.56" fill="#a6b6df"/>
<rect x="164.61" y="329.00" width="7.61" height="8.56" fill="#dee2ed"/>
<rect x="172.22" y="329.00" width="7.61" height="8.56" fill="#f2dacb"/>
<rect x="179.83" y="329.00" width="7.61" height="8.56" fill="#6b7bc0"/>
<rect x="187.44" y="329.00" width="7.61" height="8.56" fill="#6b7bc0"/>
<rect x="195.05" y="329.00" width="7.61" height="8.56" fill="#f2d7c5"/>
<rect x="202.66" y="329.00" width="7.61" height="8.56" fill="#7888c7"/>
<rect x="210.27" y="329.00" width="7.61" height="8.56" fill="#a6b6df"/>
<rect x="217.88" y="329.00" width="7.61" height="8.56" fill="#454a9f"/>
<rect x="225.49" y="329.00" width="7.61" height="8.56" fill="#d8e0f2"/>
<rect x="233.10" y="329.00" width="7.61" height="8.56" fill="#f2d7c5"/>
<rect x="240.71" y="329.00" width="7.61" height="8.56" fill="#eee1d9"/>
<rect x="248.32" y="329.00" width="7.61" height="8.56" fill="#e8e6e6"/>
<rect x="255.93" y="329.00" width="7.61" height="8.56" fill="#b5c3e6"/>
<rect x="263.54" y="329.00" width="7.61" height="8.56" fill="#a6b6df"/>
<rect x="271.15" y="329.00" width="7.61" height="8.56" fill="#d8e0f2"/>
<rect x="278.76" y="329.00" width="7.61" height="8.56" fill="#a6b6df"/>
<rect x="286.37" y="329.00" width="7.61" height="8.56" fill="#f2ddd0"/>
<rect x="293.98" y="329.00" width="7.61" height="8.56" fill="#e08668"/>
<rect x="301.59" y="329.00" width="7.61" height="8.56" fill="#cd5844"/>
<rect x="309.20" y="329.00" width="7.61" height="8.56" fill="#e8e6e6"/>
<rect x="316.81" y="329.00" width="7.61" height="8.56" fill="#eaa98c"/>
<rect x="324.42" y="329.00" width="7.61" height="8.56" fill="#eeb69c"/>
<rect x="332.03" y="329.00" width="7.61" height="8.56" fill="#e59779"/>
<rect x="339.64" y="329.00" width="7.61" height="8.56" fill="#eeb69c"/>
<rect x="347.25" y="329.00" width="7.61" height="8.56" fill="#f3cdb5"/>
<rect x="354.86" y="329.00" width="7.61" height="8.56" fill="#f2d7c5"/>
<rect x="362.47" y="329.00" width="7.61" height="8.56" fill="#f2d7c5"/>
<rect x="370.08" y="329.00" width="7.61" height="8.56" fill="#e8e6e6"/>
<rect x="377.69" y="329.00" width="7.61" height="8.56" fill="#bfcceb"/>
<rect x="385.30" y="329.00" width="7.61" height="8.56" fill="#e49375"/>
<rect x="392.91" y="329.00" width="7.61" height="8.56" fill="#e8e6e6"/>
<rect x="400.52" y="329.00" width="7.61" height="8.56" fill="#f3d3c0"/>
<rect x="408.13" y="329.00" width="7.61" height="8.56" fill="#eeb69c"/>
<rect x="415.74" y="329.00" width="7.61" height="8.56" fill="#e28a6c"/>
<rect x="423.35" y="329.00" width="7.61" height="8.56" fill="#eeb69c"/>
<rect x="430.96" y="329.00" width="7.61" height="8.56" fill="#bfcceb"/>
<rect x="157.00" y="337.56" width="7.61" height="8.56" fill="#4b52a5"/>
<rect x="164.61" y="337.56" width="7.61" height="8.56" fill="#6372bb"/>
<rect x="172.22" y="337.56" width="7.61" height="8.56" fill="#7888c7"/>
<rect x="179.83" y="337.56" width="7.61" height="8.56" fill="#e8a082"/>
<rect x="187.44" y="337.56" width="7.61" height="8.56" fill="#e8a082"/>
<rect x="195.05" y="337.56" width="7.61" height="8.56" fill="#e8a082"/>
<rect x="202.66" y="337.56" width="7.61" height="8.56" fill="#bfcceb"/>
<rect x="210.27" y="337.56" width="7.61" height="8.56" fill="#d8e0f2"/>
<rect x="217.88" y="337.56" width="7.61" height="8.56" fill="#d8e0f2"/>
<rect x="225.49" y="337.56" width="7.61" height="8.56" fill="#e8e6e6"/>
<rect x="233.10" y="337.56" width="7.61" height="8.56" fill="#6b7bc0"/>
<rect x="240.71" y="337.56" width="7.61" height="8.56" fill="#dee2ed"/>
<rect x="248.32" y="337.56" width="7.61" height="8.56" fill="#a6b6df"/>
<rect x="255.93" y="337.56" width="7.61" height="8.56" fill="#b0bee4"/>
<rect x="263.54" y="337.56" width="7.61" height="8.56" fill="#a6b6df"/>
<rect x="271.15" y="337.56" width="7.61" height="8.56" fill="#e8e6e6"/>
<rect x="278.76" y="337.56" width="7.61" height="8.56" fill="#e8a082"/>
<rect x="286.37" y="337.56" width="7.61" height="8.56" fill="#f2ddd0"/>
<rect x="293.98" y="337.56" width="7.61" height="8.56" fill="#d8e0f2"/>
<rect x="301.59" y="337.56" width="7.61" height="8.56" fill="#eee1d9"/>
<rect x="309.20" y="337.56" width="7.61" height="8.56" fill="#eeb69c"/>
<rect x="316.81" y="337.56" width="7.61" height="8.56" fill="#f2ddd0"/>
<rect x="324.42" y="337.56" width="7.61" height="8.56" fill="#ece2dd"/>
<rect x="332.03" y="337.56" width="7.61" height="8.56" fill="#d8e0f2"/>
<rect x="339.64" y="337.56" width="7.61" height="8.56" fill="#e8e6e6"/>
<rect x="347.25" y="337.56" width="7.61" height="8.56" fill="#eee1d9"/>
<rect x="354.86" y="337.56" width="7.61" height="8.56" fill="#ecb296"/>
<rect x="362.47" y="337.56" width="7.61" height="8.56" fill="#e79c7e"/>
<rect x="370.08" y="337.56" width="7.61" height="8.56" fill="#f3d3c0"/>
<rect x="377.69" y="337.56" width="7.61" height="8.56" fill="#eaa98c"/>
<rect x="385.30" y="337.56" width="7.61" height="8.56" fill="#c54838"/>
<rect x="392.91" y="337.56" width="7.61" height="8.56" fill="#a6b6df"/>
<rect x="400.52" y="337.56" width="7.61" height="8.56" fill="#bfcceb"/>
<rect x="408.13" y="337.56" width="7.61" height="8.56" fill="#e28a6c"/>
<rect x="415.74" y="337.56" width="7.61" height="8.56" fill="#eaa98c"/>
<rect x="423.35" y="337.56" width="7.61" height="8.56" fill="#e59779"/>
<rect x="430.96" y="337.56" width="7.61" height="8.56" fill="#8c9fd3"/>
<rect x="157.00" y="346.11" width="7.61" height="8.56" fill="#f2ddd0"/>
<rect x="164.61" y="346.11" width="7.61" height="8.56" fill="#a6b6df"/>
<rect x="172.22" y="346.11" width="7.61" height="8.56" fill="#d8e0f2"/>
<rect x="179.83" y="346.11" width="7.61" height="8.56" fill="#d8e0f2"/>
<rect x="187.44" y="346.11" width="7.61" height="8.56" fill="#dee2ed"/>
<rect x="195.05" y="346.11" width="7.61" height="8.56" fill="#e28a6c"/>
<rect x="202.66" y="346.11" width="7.61" height="8.56" fill="#eaa98c"/>
<rect x="210.27" y="346.11" width="7.61" height="8.56" fill="#e8e6e6"/>
<rect x="217.88" y="346.11" width="7.61" height="8.56" fill="#eee1d9"/>
<rect x="225.49" y="346.11" width="7.61" height="8.56" fill="#d8e0f2"/>
<rect x="233.10" y="346.11" width="7.61" height="8.56" fill="#a6b6df"/>
<rect x="240.71" y="346.11" width="7.61" height="8.56" fill="#e8e6e6"/>
<rect x="248.32" y="346.11" width="7.61" height="8.56" fill="#f0c0a6"/>
<rect x="255.93" y="346.11" width="7.61" height="8.56" fill="#f2d7c5"/>
<rect x="263.54" y="346.11" width="7.61" height="8.56" fill="#eee1d9"/>
<rect x="271.15" y="346.11" width="7.61" height="8.56" fill="#f2ddd0"/>
<rect x="278.76" y="346.11" width="7.61" height="8.56" fill="#f0c0a6"/>
<rect x="286.37" y="346.11" width="7.61" height="8.56" fill="#cd5844"/>
<rect x="293.98" y="346.11" width="7.61" height="8.56" fill="#bf3d30"/>
<rect x="301.59" y="346.11" width="7.61" height="8.56" fill="#dee2ed"/>
<rect x="309.20" y="346.11" width="7.61" height="8.56" fill="#e5e5e8"/>
<rect x="316.81" y="346.11" width="7.61" height="8.56" fill="#e8e6e6"/>
<rect x="324.42" y="346.11" width="7.61" height="8.56" fill="#dee2ed"/>
<rect x="332.03" y="346.11" width="7.61" height="8.56" fill="#f2d7c5"/>
<rect x="339.64" y="346.11" width="7.61" height="8.56" fill="#eee1d9"/>
<rect x="347.25" y="346.11" width="7.61" height="8.56" fill="#dee2ed"/>
<rect x="354.86" y="346.11" width="7.61" height="8.56" fill="#f0c0a6"/>
<rect x="362.47" y="346.11" width="7.61" height="8.56" fill="#f2dacb"/>
<rect x="370.08" y="346.11" width="7.61" height="8.56" fill="#e8e6e6"/>
<rect x="377.69" y="346.11" width="7.61" height="8.56" fill="#b0bee4"/>
<rect x="385.30" y="346.11" width="7.61" height="8.56" fill="#eee1d9"/>
<rect x="392.91" y="346.11" width="7.61" height="8.56" fill="#454a9f"/>
<rect x="400.52" y="346.11" width="7.61" height="8.56" fill="#bfcceb"/>
<rect x="408.13" y="346.11" width="7.61" height="8.56" fill="#e8e6e6"/>
<rect x="415.74" y="346.11" width="7.61" height="8.56" fill="#454a9f"/>
<rect x="423.35" y="346.11" width="7.61" height="8.56" fill="#e8e6e6"/>
<rect x="430.96" y="346.11" width="7.61" height="8.56" fill="#e8a082"/>
<rect x="157.00" y="354.67" width="7.61" height="8.56" fill="#d8e0f2"/>
<rect x="164.61" y="354.67" width="7.61" height="8.56" fill="#dee2ed"/>
<rect x="172.22" y="354.67" width="7.61" height="8.56" fill="#f2dacb"/>
<rect x="179.83" y="354.67" width="7.61" height="8.56" fill="#bfcceb"/>
<rect x="187.44" y="354.67" width="7.61" height="8.56" fill="#454a9f"/>
<rect x="195.05" y="354.67" width="7.61" height="8.56" fill="#6372bb"/>
<rect x="202.66" y="354.67" width="7.61" height="8.56" fill="#d8e0f2"/>
<rect x="210.27" y="354.67" width="7.61" height="8.56" fill="#d8e0f2"/>
<rect x="217.88" y="354.67" width="7.61" height="8.56" fill="#bfcceb"/>
<rect x="225.49" y="354.67" width="7.61" height="8.56" fill="#f2ddd0"/>
<rect x="233.10" y="354.67" width="7.61" height="8.56" fill="#eee1d9"/>
<rect x="240.71" y="354.67" width="7.61" height="8.56" fill="#d8e0f2"/>
<rect x="248.32" y="354.67" width="7.61" height="8.56" fill="#a6b6df"/>
<rect x="255.93" y="354.67" width="7.61" height="8.56" fill="#6f80c2"/>
<rect x="263.54" y="354.67" width="7.61" height="8.56" fill="#9bacda"/>
<rect x="271.15" y="354.67" width="7.61" height="8.56" fill="#454a9f"/>
<rect x="278.76" y="354.67" width="7.61" height="8.56" fill="#a6b6df"/>
<rect x="286.37" y="354.67" width="7.61" height="8.56" fill="#eeb69c"/>
<rect x="293.98" y="354.67" width="7.61" height="8.56" fill="#eeb69c"/>
<rect x="301.59" y="354.67" width="7.61" height="8.56" fill="#f2d7c5"/>
<rect x="309.20" y="354.67" width="7.61" height="8.56" fill="#dee2ed"/>
<rect x="316.81" y="354.67" width="7.61" height="8.56" fill="#eaa98c"/>
<rect x="324.42" y="354.67" width="7.61" height="8.56" fill="#eaa98c"/>
<rect x="332.03" y="354.67" width="7.61" height="8.56" fill="#f3d3c0"/>
<rect x="339.64" y="354.67" width="7.61" height="8.56" fill="#eaa98c"/>
<rect x="347.25" y="354.67" width="7.61" height="8.56" fill="#e79c7e"/>
<rect x="354.86" y="354.67" width="7.61" height="8.56" fill="#f2d7c5"/>
<rect x="362.47" y="354.67" width="7.61" height="8.56" fill="#eeb69c"/>
<rect x="370.08" y="354.67" width="7.61" height="8.56" fill="#eeb69c"/>
<rect x="377.69" y="354.67" width="7.61" height="8.56" fill="#eeb69c"/>
<rect x="385.30" y="354.67" width="7.61" height="8.56" fill="#eee1d9"/>
<rect x="392.91" y="354.67" width="7.61" height="8.56" fill="#f0c0a6"/>
<rect x="400.52" y="354.67" width="7.61" height="8.56" fill="#f2c8b0"/>
<rect x="408.13" y="354.67" width="7.61" height="8.56" fill="#eaa98c"/>
<rect x="415.74" y="354.67" width="7.61" height="8.56" fill="#e79c7e"/>
<rect x="423.35" y="354.67" width="7.61" height="8.56" fill="#f0c0a6"/>
<rect x="430.96" y="354.67" width="7.61" height="8.56" fill="#eee1d9"/>
<rect x="157.00" y="363.22" width="7.61" height="8.56" fill="#a6b6df"/>
<rect x="164.61" y="363.22" width="7.61" height="8.56" fill="#d8e0f2"/>
<rect x="172.22" y="363.22" width="7.61" height="8.56" fill="#d8e0f2"/>
<rect x="179.83" y="363.22" width="7.61" height="8.56" fill="#b0bee4"/>
<rect x="187.44" y="363.22" width="7.61" height="8.56" fill="#4b52a5"/>
<rect x="195.05" y="363.22" width="7.61" height="8.56" fill="#545ead"/>
<rect x="202.66" y="363.22" width="7.61" height="8.56" fill="#d8e0f2"/>
<rect x="210.27" y="363.22" width="7.61" height="8.56" fill="#d8e0f2"/>
<rect x="217.88" y="363.22" width="7.61" height="8.56" fill="#a6b6df"/>
<rect x="225.49" y="363.22" width="7.61" height="8.56" fill="#f2d7c5"/>
<rect x="233.10" y="363.22" width="7.61" height="8.56" fill="#eee1d9"/>
<rect x="240.71" y="363.22" width="7.61" height="8.56" fill="#bfcceb"/>
<rect x="248.32" y="363.22" width="7.61" height="8.56" fill="#d8e0f2"/>
<rect x="255.93" y="363.22" width="7.61" height="8.56" fill="#454a9f"/>
<rect x="263.54" y="363.22" width="7.61" height="8.56" fill="#8c9fd3"/>
<rect x="271.15" y="363.22" width="7.61" height="8.56" fill="#6f80c2"/>
<rect x="278.76" y="363.22" width="7.61" height="8.56" fill="#bfcceb"/>
<rect x="286.37" y="363.22" width="7.61" height="8.56" fill="#eeb69c"/>
<rect x="293.98" y="363.22" width="7.61" height="8.56" fill="#eaa98c"/>
<rect x="301.59" y="363.22" width="7.61" height="8.56" fill="#eaa98c"/>
<rect x="309.20" y="363.22" width="7.61" height="8.56" fill="#d8e0f2"/>
<rect x="316.81" y="363.22" width="7.61" height="8.56" fill="#e79c7e"/>
<rect x="324.42" y="363.22" width="7.61" height="8.56" fill="#e79c7e"/>
<rect x="332.03" y="363.22" width="7.61" height="8.56" fill="#e49375"/>
<rect x="339.64" y="363.22" width="7.61" height="8.56" fill="#e28a6c"/>
<rect x="347.25" y="363.22" width="7.61" height="8.56" fill="#f3d3c0"/>
<rect x="354.86" y="363.22" width="7.61" height="8.56" fill="#f2c8b0"/>
<rect x="362.47" y="363.22" width="7.61" height="8.56" fill="#f2ddd0"/>
<rect x="370.08" y="363.22" width="7.61" height="8.56" fill="#eaa98c"/>
<rect x="377.69" y="363.22" width="7.61" height="8.56" fill="#eaa98c"/>
<rect x="385.30" y="363.22" width="7.61" height="8.56" fill="#eee1d9"/>
<rect x="392.91" y="363.22" width="7.61" height="8.56" fill="#eeb69c"/>
<rect x="400.52" y="363.22" width="7.61" height="8.56" fill="#f0c0a6"/>
<rect x="408.13" y="363.22" width="7.61" height="8.56" fill="#eaa98c"/>
<rect x="415.74" y="363.22" width="7.61" height="8.56" fill="#e28a6c"/>
<rect x="423.35" y="363.22" width="7.61" height="8.56" fill="#e8e6e6"/>
<rect x="430.96" y="363.22" width="7.61" height="8.56" fill="#eee1d9"/>
<rect x="157.00" y="371.78" width="7.61" height="8.56" fill="#e8e6e6"/>
<rect x="164.61" y="371.78" width="7.61" height="8.56" fill="#454a9f"/>
<rect x="172.22" y="371.78" width="7.61" height="8.56" fill="#bfcceb"/>
<rect x="179.83" y="371.78" width="7.61" height="8.56" fill="#f2d7c5"/>
<rect x="187.44" y="371.78" width="7.61" height="8.56" fill="#d8e0f2"/>
<rect x="195.05" y="371.78" width="7.61" height="8.56" fill="#f3d3c0"/>
<rect x="202.66" y="371.78" width="7.61" height="8.56" fill="#d8e0f2"/>
<rect x="210.27" y="371.78" width="7.61" height="8.56" fill="#a6b6df"/>
<rect x="217.88" y="371.78" width="7.61" height="8.56" fill="#e8e6e6"/>
<rect x="225.49" y="371.78" width="7.61" height="8.56" fill="#d8e0f2"/>
<rect x="233.10" y="371.78" width="7.61" height="8.56" fill="#e8e6e6"/>
<rect x="240.71" y="371.78" width="7.61" height="8.56" fill="#eee1d9"/>
<rect x="248.32" y="371.78" width="7.61" height="8.56" fill="#a6b6df"/>
<rect x="255.93" y="371.78" width="7.61" height="8.56" fill="#d8e0f2"/>
<rect x="263.54" y="371.78" width="7.61" height="8.56" fill="#515aaa"/>
<rect x="271.15" y="371.78" width="7.61" height="8.56" fill="#f2dacb"/>
<rect x="278.76" y="371.78" width="7.61" height="8.56" fill="#f2d7c5"/>
<rect x="286.37" y="371.78" width="7.61" height="8.56" fill="#eeb69c"/>
<rect x="293.98" y="371.78" width="7.61" height="8.56" fill="#e8e6e6"/>
<rect x="301.59" y="371.78" width="7.61" height="8.56" fill="#dee2ed"/>
<rect x="309.20" y="371.78" width="7.61" height="8.56" fill="#eaa98c"/>
<rect x="316.81" y="371.78" width="7.61" height="8.56" fill="#eaa98c"/>
<rect x="324.42" y="371.78" width="7.61" height="8.56" fill="#d8e0f2"/>
<rect x="332.03" y="371.78" width="7.61" height="8.56" fill="#f3d3c0"/>
<rect x="339.64" y="371.78" width="7.61" height="8.56" fill="#eaa98c"/>
<rect x="347.25" y="371.78" width="7.61" height="8.56" fill="#b0bee4"/>
<rect x="354.86" y="371.78" width="7.61" height="8.56" fill="#6b7bc0"/>
<rect x="362.47" y="371.78" width="7.61" height="8.56" fill="#a6b6df"/>
<rect x="370.08" y="371.78" width="7.61" height="8.56" fill="#d8e0f2"/>
<rect x="377.69" y="371.78" width="7.61" height="8.56" fill="#b0bee4"/>
<rect x="385.30" y="371.78" width="7.61" height="8.56" fill="#f0c0a6"/>
<rect x="392.91" y="371.78" width="7.61" height="8.56" fill="#e9a487"/>
<rect x="400.52" y="371.78" width="7.61" height="8.56" fill="#f0c0a6"/>
<rect x="408.13" y="371.78" width="7.61" height="8.56" fill="#d05e47"/>
<rect x="415.74" y="371.78" width="7.61" height="8.56" fill="#c24234"/>
<rect x="423.35" y="371.78" width="7.61" height="8.56" fill="#eaa98c"/>
<rect x="430.96" y="371.78" width="7.61" height="8.56" fill="#eaa98c"/>
<rect x="149.10" y="115.10" width="7.10" height="8.56" fill="#8a8a8a"/>
<rect x="149.10" y="123.66" width="7.10" height="8.56" fill="#7e4b3e"/>
<rect x="149.10" y="132.21" width="7.10" height="8.56" fill="#b8141a"/>
<rect x="149.10" y="140.77" width="7.10" height="8.56" fill="#b8141a"/>
<rect x="149.10" y="149.32" width="7.10" height="8.56" fill="#3c913a"/>
<rect x="149.10" y="157.88" width="7.10" height="8.56" fill="#a8d08d"/>
<rect x="149.10" y="166.44" width="7.10" height="8.56" fill="#c060a8"/>
<rect x="149.10" y="174.99" width="7.10" height="8.56" fill="#7e4b3e"/>
<rect x="149.10" y="183.55" width="7.10" height="8.56" fill="#c060a8"/>
<rect x="149.10" y="192.10" width="7.10" height="8.56" fill="#7e4b3e"/>
<rect x="149.10" y="200.66" width="7.10" height="8.56" fill="#d9db86"/>
<rect x="149.10" y="209.22" width="7.10" height="8.56" fill="#8a8a8a"/>
<rect x="149.10" y="217.77" width="7.10" height="8.56" fill="#d9db86"/>
<rect x="149.10" y="226.33" width="7.10" height="8.56" fill="#8a8a8a"/>
<rect x="149.10" y="234.88" width="7.10" height="8.56" fill="#8a8a8a"/>
<rect x="149.10" y="243.44" width="7.10" height="8.56" fill="#ecbdd8"/>
<rect x="149.10" y="252.00" width="7.10" height="8.56" fill="#3b6db4"/>
<rect x="149.10" y="260.55" width="7.10" height="8.56" fill="#bcddeb"/>
<rect x="149.10" y="269.11" width="7.10" height="8.56" fill="#7e4b3e"/>
<rect x="149.10" y="277.66" width="7.10" height="8.56" fill="#bcddeb"/>
<rect x="149.10" y="286.22" width="7.10" height="8.56" fill="#3b6db4"/>
<rect x="149.10" y="294.78" width="7.10" height="8.56" fill="#7f5bae"/>
<rect x="149.10" y="303.33" width="7.10" height="8.56" fill="#7f5bae"/>
<rect x="149.10" y="311.89" width="7.10" height="8.56" fill="#b8141a"/>
<rect x="149.10" y="320.44" width="7.10" height="8.56" fill="#ecbdd8"/>
<rect x="149.10" y="329.00" width="7.10" height="8.56" fill="#4faecf"/>
<rect x="149.10" y="337.56" width="7.10" height="8.56" fill="#c2b4dc"/>
<rect x="149.10" y="346.11" width="7.10" height="8.56" fill="#b8141a"/>
<rect x="149.10" y="354.67" width="7.10" height="8.56" fill="#e07a1f"/>
<rect x="149.10" y="363.22" width="7.10" height="8.56" fill="#e07a1f"/>
<rect x="149.10" y="371.78" width="7.10" height="8.56" fill="#c2b4dc"/>
<rect x="157.00" y="41.10" width="7.61" height="6.10" fill="#3f1a55"/>
<rect x="157.00" y="47.20" width="7.61" height="6.10" fill="#d9a41a"/>
<rect x="157.00" y="108.20" width="7.61" height="6.10" fill="#4a9a73"/>
<rect x="164.61" y="41.10" width="7.61" height="6.10" fill="#f1e21f"/>
<rect x="164.61" y="47.20" width="7.61" height="6.10" fill="#d9a41a"/>
<rect x="164.61" y="108.20" width="7.61" height="6.10" fill="#4a9a73"/>
<rect x="172.22" y="41.10" width="7.61" height="6.10" fill="#f1e21f"/>
<rect x="172.22" y="47.20" width="7.61" height="6.10" fill="#ebebeb"/>
<rect x="172.22" y="108.20" width="7.61" height="6.10" fill="#4a9a73"/>
<rect x="179.83" y="41.10" width="7.61" height="6.10" fill="#f1e21f"/>
<rect x="179.83" y="47.20" width="7.61" height="6.10" fill="#ebebeb"/>
<rect x="179.83" y="108.20" width="7.61" height="6.10" fill="#4a9a73"/>
<rect x="187.44" y="41.10" width="7.61" height="6.10" fill="#3e8e8a"/>
<rect x="187.44" y="47.20" width="7.61" height="6.10" fill="#ebebeb"/>
<rect x="187.44" y="108.20" width="7.61" height="6.10" fill="#4a9a73"/>
<rect x="195.05" y="41.10" width="7.61" height="6.10" fill="#3f1a55"/>
<rect x="195.05" y="47.20" width="7.61" height="6.10" fill="#ebebeb"/>
<rect x="195.05" y="108.20" width="7.61" height="6.10" fill="#4a9a73"/>
<rect x="202.66" y="41.10" width="7.61" height="6.10" fill="#3f1a55"/>
<rect x="202.66" y="47.20" width="7.61" height="6.10" fill="#6a9e3a"/>
<rect x="202.66" y="108.20" width="7.61" height="6.10" fill="#4a9a73"/>
<rect x="210.27" y="41.10" width="7.61" height="6.10" fill="#3f1a55"/>
<rect x="210.27" y="47.20" width="7.61" height="6.10" fill="#ebebeb"/>
<rect x="210.27" y="108.20" width="7.61" height="6.10" fill="#4a9a73"/>
<rect x="217.88" y="41.10" width="7.61" height="6.10" fill="#3e8e8a"/>
<rect x="217.88" y="47.20" width="7.61" height="6.10" fill="#d9a41a"/>
<rect x="217.88" y="108.20" width="7.61" height="6.10" fill="#4a9a73"/>
<rect x="225.49" y="41.10" width="7.61" height="6.10" fill="#3e8e8a"/>
<rect x="225.49" y="47.20" width="7.61" height="6.10" fill="#d9a41a"/>
<rect x="225.49" y="108.20" width="7.61" height="6.10" fill="#4a9a73"/>
<rect x="233.10" y="41.10" width="7.61" height="6.10" fill="#3f1a55"/>
<rect x="233.10" y="47.20" width="7.61" height="6.10" fill="#ebebeb"/>
<rect x="233.10" y="108.20" width="7.61" height="6.10" fill="#4a9a73"/>
<rect x="240.71" y="41.10" width="7.61" height="6.10" fill="#3f1a55"/>
<rect x="240.71" y="47.20" width="7.61" height="6.10" fill="#6a9e3a"/>
<rect x="240.71" y="108.20" width="7.61" height="6.10" fill="#4a9a73"/>
<rect x="248.32" y="41.10" width="7.61" height="6.10" fill="#3f1a55"/>
<rect x="248.32" y="47.20" width="7.61" height="6.10" fill="#ebebeb"/>
<rect x="248.32" y="108.20" width="7.61" height="6.10" fill="#4a9a73"/>
<rect x="255.93" y="41.10" width="7.61" height="6.10" fill="#3f1a55"/>
<rect x="255.93" y="47.20" width="7.61" height="6.10" fill="#6a9e3a"/>
<rect x="255.93" y="108.20" width="7.61" height="6.10" fill="#4a9a73"/>
<rect x="263.54" y="41.10" width="7.61" height="6.10" fill="#3f1a55"/>
<rect x="263.54" y="47.20" width="7.61" height="6.10" fill="#6a9e3a"/>
<rect x="263.54" y="108.20" width="7.61" height="6.10" fill="#4a9a73"/>
<rect x="271.15" y="41.10" width="7.61" height="6.10" fill="#3e8e8a"/>
<rect x="271.15" y="47.20" width="7.61" height="6.10" fill="#ebebeb"/>
<rect x="271.15" y="108.20" width="7.61" height="6.10" fill="#4a9a73"/>
<rect x="278.76" y="41.10" width="7.61" height="6.10" fill="#f1e21f"/>
<rect x="278.76" y="47.20" width="7.61" height="6.10" fill="#d9a41a"/>
<rect x="278.76" y="108.20" width="7.61" height="6.10" fill="#4a9a73"/>
<rect x="286.37" y="41.10" width="7.61" height="6.10" fill="#3f1a55"/>
<rect x="286.37" y="47.20" width="7.61" height="6.10" fill="#6a9e3a"/>
<rect x="286.37" y="108.20" width="7.61" height="6.10" fill="#c8561b"/>
<rect x="293.98" y="41.10" width="7.61" height="6.10" fill="#3e8e8a"/>
<rect x="293.98" y="47.20" width="7.61" height="6.10" fill="#6a9e3a"/>
<rect x="293.98" y="108.20" width="7.61" height="6.10" fill="#c8561b"/>
<rect x="301.59" y="41.10" width="7.61" height="6.10" fill="#3f1a55"/>
<rect x="301.59" y="47.20" width="7.61" height="6.10" fill="#6a9e3a"/>
<rect x="301.59" y="108.20" width="7.61" height="6.10" fill="#c8561b"/>
<rect x="309.20" y="41.10" width="7.61" height="6.10" fill="#3e8e8a"/>
<rect x="309.20" y="47.20" width="7.61" height="6.10" fill="#ebebeb"/>
<rect x="309.20" y="108.20" width="7.61" height="6.10" fill="#c8561b"/>
<rect x="316.81" y="41.10" width="7.61" height="6.10" fill="#f1e21f"/>
<rect x="316.81" y="47.20" width="7.61" height="6.10" fill="#ebebeb"/>
<rect x="316.81" y="108.20" width="7.61" height="6.10" fill="#c8561b"/>
<rect x="324.42" y="41.10" width="7.61" height="6.10" fill="#3f1a55"/>
<rect x="324.42" y="47.20" width="7.61" height="6.10" fill="#d9a41a"/>
<rect x="324.42" y="108.20" width="7.61" height="6.10" fill="#c8561b"/>
<rect x="332.03" y="41.10" width="7.61" height="6.10" fill="#3e8e8a"/>
<rect x="332.03" y="47.20" width="7.61" height="6.10" fill="#d9a41a"/>
<rect x="332.03" y="108.20" width="7.61" height="6.10" fill="#c8561b"/>
<rect x="339.64" y="41.10" width="7.61" height="6.10" fill="#3e8e8a"/>
<rect x="339.64" y="47.20" width="7.61" height="6.10" fill="#d9a41a"/>
<rect x="339.64" y="108.20" width="7.61" height="6.10" fill="#c8561b"/>
<rect x="347.25" y="41.10" width="7.61" height="6.10" fill="#f1e21f"/>
<rect x="347.25" y="47.20" width="7.61" height="6.10" fill="#ebebeb"/>
<rect x="347.25" y="108.20" width="7.61" height="6.10" fill="#c8561b"/>
<rect x="354.86" y="41.10" width="7.61" height="6.10" fill="#3e8e8a"/>
<rect x="354.86" y="47.20" width="7.61" height="6.10" fill="#6a9e3a"/>
<rect x="354.86" y="108.20" width="7.61" height="6.10" fill="#c8561b"/>
<rect x="362.47" y="41.10" width="7.61" height="6.10" fill="#3e8e8a"/>
<rect x="362.47" y="47.20" width="7.61" height="6.10" fill="#d9a41a"/>
<rect x="362.47" y="108.20" width="7.61" height="6.10" fill="#c8561b"/>
<rect x="370.08" y="41.10" width="7.61" height="6.10" fill="#f1e21f"/>
<rect x="370.08" y="47.20" width="7.61" height="6.10" fill="#d9a41a"/>
<rect x="370.08" y="108.20" width="7.61" height="6.10" fill="#c8561b"/>
<rect x="377.69" y="41.10" width="7.61" height="6.10" fill="#f1e21f"/>
<rect x="377.69" y="47.20" width="7.61" height="6.10" fill="#d9a41a"/>
<rect x="377.69" y="108.20" width="7.61" height="6.10" fill="#c8561b"/>
<rect x="385.30" y="41.10" width="7.61" height="6.10" fill="#f1e21f"/>
<rect x="385.30" y="47.20" width="7.61" height="6.10" fill="#d9a41a"/>
<rect x="385.30" y="108.20" width="7.61" height="6.10" fill="#c8561b"/>
<rect x="392.91" y="41.10" width="7.61" height="6.10" fill="#3f1a55"/>
<rect x="392.91" y="47.20" width="7.61" height="6.10" fill="#ebebeb"/>
<rect x="392.91" y="108.20" width="7.61" height="6.10" fill="#7e72ba"/>
<rect x="400.52" y="41.10" width="7.61" height="6.10" fill="#3f1a55"/>
<rect x="400.52" y="47.20" width="7.61" height="6.10" fill="#ebebeb"/>
<rect x="400.52" y="108.20" width="7.61" height="6.10" fill="#7e72ba"/>
<rect x="408.13" y="41.10" width="7.61" height="6.10" fill="#3f1a55"/>
<rect x="408.13" y="47.20" width="7.61" height="6.10" fill="#ebebeb"/>
<rect x="408.13" y="108.20" width="7.61" height="6.10" fill="#7e72ba"/>
<rect x="415.74" y="41.10" width="7.61" height="6.10" fill="#3e8e8a"/>
<rect x="415.74" y="47.20" width="7.61" height="6.10" fill="#d9a41a"/>
<rect x="415.74" y="108.20" width="7.61" height="6.10" fill="#7e72ba"/>
<rect x="423.35" y="41.10" width="7.61" height="6.10" fill="#f1e21f"/>
<rect x="423.35" y="47.20" width="7.61" height="6.10" fill="#ebebeb"/>
<rect x="423.35" y="108.20" width="7.61" height="6.10" fill="#7e72ba"/>
<rect x="430.96" y="41.10" width="7.61" height="6.10" fill="#3f1a55"/>
<rect x="430.96" y="47.20" width="7.61" height="6.10" fill="#6a9e3a"/>
<rect x="430.96" y="108.20" width="7.61" height="6.10" fill="#7e72ba"/>
<rect x="172.22" y="53.30" width="7.61" height="6.10" fill="#111111"/>
<rect x="187.44" y="53.30" width="7.61" height="6.10" fill="#111111"/>
<rect x="202.66" y="53.30" width="7.61" height="6.10" fill="#111111"/>
<rect x="210.27" y="53.30" width="7.61" height="6.10" fill="#111111"/>
<rect x="217.88" y="53.30" width="7.61" height="6.10" fill="#111111"/>
<rect x="240.71" y="53.30" width="7.61" height="6.10" fill="#111111"/>
<rect x="255.93" y="53.30" width="7.61" height="6.10" fill="#111111"/>
<rect x="278.76" y="53.30" width="7.61" height="6.10" fill="#111111"/>
<rect x="286.37" y="53.30" width="7.61" height="6.10" fill="#111111"/>
<rect x="293.98" y="53.30" width="7.61" height="6.10" fill="#111111"/>
<rect x="301.59" y="53.30" width="7.61" height="6.10" fill="#111111"/>
<rect x="316.81" y="53.30" width="7.61" height="6.10" fill="#111111"/>
<rect x="339.64" y="53.30" width="7.61" height="6.10" fill="#111111"/>
<rect x="347.25" y="53.30" width="7.61" height="6.10" fill="#111111"/>
<rect x="354.86" y="53.30" width="7.61" height="6.10" fill="#111111"/>
<rect x="362.47" y="53.30" width="7.61" height="6.10" fill="#111111"/>
<rect x="377.69" y="53.30" width="7.61" height="6.10" fill="#111111"/>
<rect x="385.30" y="53.30" width="7.61" height="6.10" fill="#111111"/>
<rect x="408.13" y="53.30" width="7.61" height="6.10" fill="#111111"/>
<rect x="415.74" y="53.30" width="7.61" height="6.10" fill="#111111"/>
<rect x="157.00" y="59.40" width="7.61" height="6.10" fill="#111111"/>
<rect x="164.61" y="59.40" width="7.61" height="6.10" fill="#111111"/>
<rect x="225.49" y="59.40" width="7.61" height="6.10" fill="#111111"/>
<rect x="233.10" y="59.40" width="7.61" height="6.10" fill="#111111"/>
<rect x="278.76" y="59.40" width="7.61" height="6.10" fill="#111111"/>
<rect x="293.98" y="59.40" width="7.61" height="6.10" fill="#111111"/>
<rect x="301.59" y="59.40" width="7.61" height="6.10" fill="#111111"/>
<rect x="309.20" y="59.40" width="7.61" height="6.10" fill="#111111"/>
<rect x="316.81" y="59.40" width="7.61" height="6.10" fill="#111111"/>
<rect x="324.42" y="59.40" width="7.61" height="6.10" fill="#111111"/>
<rect x="332.03" y="59.40" width="7.61" height="6.10" fill="#111111"/>
<rect x="339.64" y="59.40" width="7.61" height="6.10" fill="#111111"/>
<rect x="354.86" y="59.40" width="7.61" height="6.10" fill="#111111"/>
<rect x="362.47" y="59.40" width="7.61" height="6.10" fill="#111111"/>
<rect x="377.69" y="59.40" width="7.61" height="6.10" fill="#111111"/>
<rect x="385.30" y="59.40" width="7.61" height="6.10" fill="#111111"/>
<rect x="408.13" y="59.40" width="7.61" height="6.10" fill="#111111"/>
<rect x="415.74" y="59.40" width="7.61" height="6.10" fill="#111111"/>
<rect x="179.83" y="65.50" width="7.61" height="6.10" fill="#111111"/>
<rect x="233.10" y="65.50" width="7.61" height="6.10" fill="#111111"/>
<rect x="309.20" y="65.50" width="7.61" height="6.10" fill="#111111"/>
<rect x="324.42" y="65.50" width="7.61" height="6.10" fill="#111111"/>
<rect x="385.30" y="65.50" width="7.61" height="6.10" fill="#111111"/>
<rect x="408.13" y="65.50" width="7.61" height="6.10" fill="#111111"/>
<rect x="423.35" y="65.50" width="7.61" height="6.10" fill="#111111"/>
<rect x="179.83" y="71.60" width="7.61" height="6.10" fill="#111111"/>
<rect x="217.88" y="71.60" width="7.61" height="6.10" fill="#111111"/>
<rect x="309.20" y="71.60" width="7.61" height="6.10" fill="#111111"/>
<rect x="408.13" y="71.60" width="7.61" height="6.10" fill="#111111"/>
<rect x="423.35" y="71.60" width="7.61" height="6.10" fill="#111111"/>
<rect x="217.88" y="77.70" width="7.61" height="6.10" fill="#111111"/>
<rect x="301.59" y="77.70" width="7.61" height="6.10" fill="#111111"/>
<rect x="362.47" y="77.70" width="7.61" height="6.10" fill="#111111"/>
<rect x="385.30" y="77.70" width="7.61" height="6.10" fill="#111111"/>
<rect x="202.66" y="83.80" width="7.61" height="6.10" fill="#111111"/>
<rect x="255.93" y="83.80" width="7.61" height="6.10" fill="#111111"/>
<rect x="293.98" y="83.80" width="7.61" height="6.10" fill="#111111"/>
<rect x="301.59" y="83.80" width="7.61" height="6.10" fill="#111111"/>
<rect x="339.64" y="83.80" width="7.61" height="6.10" fill="#111111"/>
<rect x="347.25" y="83.80" width="7.61" height="6.10" fill="#111111"/>
<rect x="354.86" y="83.80" width="7.61" height="6.10" fill="#111111"/>
<rect x="362.47" y="83.80" width="7.61" height="6.10" fill="#111111"/>
<rect x="377.69" y="83.80" width="7.61" height="6.10" fill="#111111"/>
<rect x="385.30" y="83.80" width="7.61" height="6.10" fill="#111111"/>
<rect x="385.30" y="89.90" width="7.61" height="6.10" fill="#111111"/>
<rect x="415.74" y="89.90" width="7.61" height="6.10" fill="#111111"/>
<rect x="217.88" y="96.00" width="7.61" height="6.10" fill="#111111"/>
<rect x="255.93" y="96.00" width="7.61" height="6.10" fill="#111111"/>
<rect x="301.59" y="96.00" width="7.61" height="6.10" fill="#111111"/>
<rect x="354.86" y="96.00" width="7.61" height="6.10" fill="#111111"/>
<rect x="362.47" y="96.00" width="7.61" height="6.10" fill="#111111"/>
<rect x="172.22" y="102.10" width="7.61" height="6.10" fill="#111111"/>
<rect x="225.49" y="102.10" width="7.61" height="6.10" fill="#111111"/>
<rect x="278.76" y="102.10" width="7.61" height="6.10" fill="#111111"/>
<rect x="293.98" y="102.10" width="7.61" height="6.10" fill="#111111"/>
<rect x="316.81" y="102.10" width="7.61" height="6.10" fill="#111111"/>
<rect x="332.03" y="102.10" width="7.61" height="6.10" fill="#111111"/>
<rect x="339.64" y="102.10" width="7.61" height="6.10" fill="#111111"/>
<rect x="377.69" y="102.10" width="7.61" height="6.10" fill="#111111"/>
</g>
<g fill="#111111" font-size="6.30">
<rect x="438.5" y="43.70" width="2.7" height="0.95"/>
<text x="444.9" y="46.95">BM_Blasts</text>
<rect x="438.5" y="49.80" width="2.7" height="0.95"/>
<text x="444.9" y="53.05">HMA Exposure</text>
<rect x="438.5" y="55.90" width="2.7" height="0.95"/>
<text x="444.9" y="59.15">&gt; 2 Mutations</text>
<rect x="438.5" y="62.00" width="2.7" height="0.95"/>
<text x="444.9" y="65.25">IPSS-R Higher Risk</text>
<rect x="438.5" y="68.10" width="2.7" height="0.95"/>
<text x="444.9" y="71.35">Poor Cytogenetics</text>
<rect x="438.5" y="74.20" width="2.7" height="0.95"/>
<text x="444.9" y="77.45">TP53</text>
<rect x="438.5" y="80.30" width="2.7" height="0.95"/>
<text x="444.9" y="83.55">RUNX1</text>
<rect x="438.5" y="86.40" width="2.7" height="0.95"/>
<text x="444.9" y="89.65">ASXL1</text>
<rect x="438.5" y="92.50" width="2.7" height="0.95"/>
<text x="444.9" y="95.75">ETV6</text>
<rect x="438.5" y="98.60" width="2.7" height="0.95"/>
<text x="444.9" y="101.85">EZH2</text>
<rect x="438.5" y="104.70" width="2.7" height="0.95"/>
<text x="444.9" y="107.95">RAS</text>
<rect x="438.5" y="110.80" width="2.7" height="0.95"/>
<text x="444.9" y="114.05">Cluster</text>
<rect x="438.5" y="118.93" width="2.7" height="0.95"/>
<text x="444.9" y="122.18">Dexamethasone</text>
<rect x="438.5" y="127.48" width="2.7" height="0.95"/>
<text x="444.9" y="130.73">Ruxolitinib</text>
<rect x="438.5" y="136.04" width="2.7" height="0.95"/>
<text x="444.9" y="139.29">Belinostat</text>
<rect x="438.5" y="144.60" width="2.7" height="0.95"/>
<text x="444.9" y="147.85">Vorinostat</text>
<rect x="438.5" y="153.15" width="2.7" height="0.95"/>
<text x="444.9" y="156.40">Lenalidomide</text>
<rect x="438.5" y="161.71" width="2.7" height="0.95"/>
<text x="444.9" y="164.96">Venetoclax</text>
<rect x="438.5" y="170.26" width="2.7" height="0.95"/>
<text x="444.9" y="173.51">Enasidenib</text>
<rect x="438.5" y="178.82" width="2.7" height="0.95"/>
<text x="444.9" y="182.07">Sorafenib</text>
<rect x="438.5" y="187.38" width="2.7" height="0.95"/>
<text x="444.9" y="190.63">Ivosidenib</text>
<rect x="438.5" y="195.93" width="2.7" height="0.95"/>
<text x="444.9" y="199.18">Imatinib</text>
<rect x="438.5" y="204.49" width="2.7" height="0.95"/>
<text x="444.9" y="207.74">Metformin</text>
<rect x="438.5" y="213.04" width="2.7" height="0.95"/>
<text x="444.9" y="216.29">Arsenic Trioxide</text>
<rect x="438.5" y="221.60" width="2.7" height="0.95"/>
<text x="444.9" y="224.85">Zoledronic Acid Hydrate</text>
<rect x="438.5" y="230.16" width="2.7" height="0.95"/>
<text x="444.9" y="233.41">Calcitriol</text>
<rect x="438.5" y="238.71" width="2.7" height="0.95"/>
<text x="444.9" y="241.96">Tretinoin</text>
<rect x="438.5" y="247.27" width="2.7" height="0.95"/>
<text x="444.9" y="250.52">Olaparib</text>
<rect x="438.5" y="255.82" width="2.7" height="0.95"/>
<text x="444.9" y="259.07">Decitabine</text>
<rect x="438.5" y="264.38" width="2.7" height="0.95"/>
<text x="444.9" y="267.63">Decitabine &amp; Venetoclax</text>
<rect x="438.5" y="272.94" width="2.7" height="0.95"/>
<text x="444.9" y="276.19">Palbociclib Isethionate</text>
<rect x="438.5" y="281.49" width="2.7" height="0.95"/>
<text x="444.9" y="284.74">Azacitidine &amp; Venetoclax</text>
<rect x="438.5" y="290.05" width="2.7" height="0.95"/>
<text x="444.9" y="293.30">Azacitidine</text>
<rect x="438.5" y="298.60" width="2.7" height="0.95"/>
<text x="444.9" y="301.85">Everolimus</text>
<rect x="438.5" y="307.16" width="2.7" height="0.95"/>
<text x="444.9" y="310.41">Rapamycin</text>
<rect x="438.5" y="315.72" width="2.7" height="0.95"/>
<text x="444.9" y="318.97">Panobinostat</text>
<rect x="438.5" y="324.27" width="2.7" height="0.95"/>
<text x="444.9" y="327.52">Rucaparib</text>
<rect x="438.5" y="332.83" width="2.7" height="0.95"/>
<text x="444.9" y="336.08">Fludarabine</text>
<rect x="438.5" y="341.38" width="2.7" height="0.95"/>
<text x="444.9" y="344.63">Bortezomib</text>
<rect x="438.5" y="349.94" width="2.7" height="0.95"/>
<text x="444.9" y="353.19">Romidepsin</text>
<rect x="438.5" y="358.50" width="2.7" height="0.95"/>
<text x="444.9" y="361.75">Daunorubicin</text>
<rect x="438.5" y="367.05" width="2.7" height="0.95"/>
<text x="444.9" y="370.30">Idarubicin</text>
<rect x="438.5" y="375.61" width="2.7" height="0.95"/>
<text x="444.9" y="378.86">Carfilzomib</text>
</g>
<g fill="#111111">
<rect x="152.20" y="380.6" width="0.9" height="2.6"/>
<rect x="160.36" y="380.6" width="0.9" height="2.6"/>
<rect x="167.97" y="380.6" width="0.9" height="2.6"/>
<rect x="175.58" y="380.6" width="0.9" height="2.6"/>
<rect x="183.19" y="380.6" width="0.9" height="2.6"/>
<rect x="190.80" y="380.6" width="0.9" height="2.6"/>
<rect x="198.41" y="380.6" width="0.9" height="2.6"/>
<rect x="206.02" y="380.6" width="0.9" height="2.6"/>
<rect x="213.62" y="380.6" width="0.9" height="2.6"/>
<rect x="221.24" y="380.6" width="0.9" height="2.6"/>
<rect x="228.85" y="380.6" width="0.9" height="2.6"/>
<rect x="236.46" y="380.6" width="0.9" height="2.6"/>
<rect x="244.06" y="380.6" width="0.9" height="2.6"/>
<rect x="251.68" y="380.6" width="0.9" height="2.6"/>
<rect x="259.29" y="380.6" width="0.9" height="2.6"/>
<rect x="266.90" y="380.6" width="0.9" height="2.6"/>
<rect x="274.50" y="380.6" width="0.9" height="2.6"/>
<rect x="282.12" y="380.6" width="0.9" height="2.6"/>
<rect x="289.73" y="380.6" width="0.9" height="2.6"/>
<rect x="297.33" y="380.6" width="0.9" height="2.6"/>
<rect x="304.94" y="380.6" width="0.9" height="2.6"/>
<rect x="312.56" y="380.6" width="0.9" height="2.6"/>
<rect x="320.17" y="380.6" width="0.9" height="2.6"/>
<rect x="327.78" y="380.6" width="0.9" height="2.6"/>
<rect x="335.39" y="380.6" width="0.9" height="2.6"/>
<rect x="343.00" y="380.6" width="0.9" height="2.6"/>
<rect x="350.61" y="380.6" width="0.9" height="2.6"/>
<rect x="358.22" y="380.6" width="0.9" height="2.6"/>
<rect x="365.82" y="380.6" width="0.9" height="2.6"/>
<rect x="373.44" y="380.6" width="0.9" height="2.6"/>
<rect x="381.05" y="380.6" width="0.9" height="2.6"/>
<rect x="388.66" y="380.6" width="0.9" height="2.6"/>
<rect x="396.27" y="380.6" width="0.9" height="2.6"/>
<rect x="403.88" y="380.6" width="0.9" height="2.6"/>
<rect x="411.49" y="380.6" width="0.9" height="2.6"/>
<rect x="419.10" y="380.6" width="0.9" height="2.6"/>
<rect x="426.71" y="380.6" width="0.9" height="2.6"/>
<rect x="434.31" y="380.6" width="0.9" height="2.6"/>
<text x="160.81" y="391.8" font-size="6.5" text-anchor="middle">53</text>
<text x="168.41" y="391.8" font-size="6.5" text-anchor="middle">48</text>
<text x="176.03" y="391.8" font-size="6.5" text-anchor="middle">16</text>
<text x="183.63" y="391.8" font-size="6.5" text-anchor="middle">19</text>
<text x="191.25" y="391.8" font-size="6.5" text-anchor="middle">13</text>
<text x="198.86" y="391.8" font-size="6.5" text-anchor="middle">11</text>
<text x="206.47" y="391.8" font-size="6.5" text-anchor="middle">46</text>
<text x="214.07" y="391.8" font-size="6.5" text-anchor="middle">27</text>
<text x="221.69" y="391.8" font-size="6.5" text-anchor="middle">7</text>
<text x="229.30" y="391.8" font-size="6.5" text-anchor="middle">24</text>
<text x="236.91" y="391.8" font-size="6.5" text-anchor="middle">9</text>
<text x="244.51" y="391.8" font-size="6.5" text-anchor="middle">12</text>
<text x="252.12" y="391.8" font-size="6.5" text-anchor="middle">35</text>
<text x="259.74" y="391.8" font-size="6.5" text-anchor="middle">15</text>
<text x="267.35" y="391.8" font-size="6.5" text-anchor="middle">23</text>
<text x="274.95" y="391.8" font-size="6.5" text-anchor="middle">40</text>
<text x="282.56" y="391.8" font-size="6.5" text-anchor="middle">34</text>
<text x="290.18" y="391.8" font-size="6.5" text-anchor="middle">52</text>
<text x="297.78" y="391.8" font-size="6.5" text-anchor="middle">42</text>
<text x="305.39" y="391.8" font-size="6.5" text-anchor="middle">44</text>
<text x="313.00" y="391.8" font-size="6.5" text-anchor="middle">37</text>
<text x="320.62" y="391.8" font-size="6.5" text-anchor="middle">41</text>
<text x="328.23" y="391.8" font-size="6.5" text-anchor="middle">55</text>
<text x="335.84" y="391.8" font-size="6.5" text-anchor="middle">45</text>
<text x="343.45" y="391.8" font-size="6.5" text-anchor="middle">29</text>
<text x="351.06" y="391.8" font-size="6.5" text-anchor="middle">17</text>
<text x="358.67" y="391.8" font-size="6.5" text-anchor="middle">38</text>
<text x="366.27" y="391.8" font-size="6.5" text-anchor="middle">18</text>
<text x="373.88" y="391.8" font-size="6.5" text-anchor="middle">22</text>
<text x="381.50" y="391.8" font-size="6.5" text-anchor="middle">21</text>
<text x="389.11" y="391.8" font-size="6.5" text-anchor="middle">14</text>
<text x="396.72" y="391.8" font-size="6.5" text-anchor="middle">25</text>
<text x="404.33" y="391.8" font-size="6.5" text-anchor="middle">30</text>
<text x="411.94" y="391.8" font-size="6.5" text-anchor="middle">31</text>
<text x="419.55" y="391.8" font-size="6.5" text-anchor="middle">26</text>
<text x="427.16" y="391.8" font-size="6.5" text-anchor="middle">33</text>
<text x="434.76" y="391.8" font-size="6.5" text-anchor="middle">50</text>
<text transform="translate(154.9,401.9) rotate(-90) scale(1,1.18)" font-size="6.1">Class</text>
<text transform="translate(288.7,404.3) scale(0.675,1)" font-size="8.6" style="stroke-width:0.45px">screen</text>
</g>
<path d="M168.41 35.20L176.03 35.20 M168.41 35.20L168.41 39.70 M176.03 35.20L176.03 39.70 M160.81 33.50L172.22 33.50 M160.81 33.50L160.81 39.70 M172.22 33.50L172.22 35.20 M183.63 34.20L191.25 34.20 M183.63 34.20L183.63 39.70 M191.25 34.20L191.25 39.70 M187.44 32.50L198.86 32.50 M187.44 32.50L187.44 34.20 M198.86 32.50L198.86 39.70 M214.07 36.00L221.69 36.00 M214.07 36.00L214.07 39.70 M221.69 36.00L221.69 39.70 M206.47 34.10L217.88 34.10 M206.47 34.10L206.47 39.70 M217.88 34.10L217.88 36.00 M229.30 34.10L236.91 34.10 M229.30 34.10L229.30 39.70 M236.91 34.10L236.91 39.70 M244.51 35.50L252.12 35.50 M244.51 35.50L244.51 39.70 M252.12 35.50L252.12 39.70 M233.10 33.00L248.32 33.00 M233.10 33.00L233.10 34.10 M248.32 33.00L248.32 35.50 M212.17 32.50L240.71 32.50 M212.17 32.50L212.17 34.10 M240.71 32.50L240.71 33.00 M259.74 37.00L267.35 37.00 M259.74 37.00L259.74 39.70 M267.35 37.00L267.35 39.70 M263.54 36.20L274.95 36.20 M263.54 36.20L263.54 37.00 M274.95 36.20L274.95 39.70 M226.44 31.80L269.25 31.80 M226.44 31.80L226.44 32.50 M269.25 31.80L269.25 36.20 M247.84 28.50L282.56 28.50 M247.84 28.50L247.84 31.80 M282.56 28.50L282.56 39.70 M193.15 28.30L265.20 28.30 M193.15 28.30L193.15 32.50 M265.20 28.30L265.20 28.50 M166.51 25.30L229.18 25.30 M166.51 25.30L166.51 33.50 M229.18 25.30L229.18 28.30 M290.18 32.40L297.78 32.40 M290.18 32.40L290.18 39.70 M297.78 32.40L297.78 39.70 M305.39 32.80L313.00 32.80 M305.39 32.80L305.39 39.70 M313.00 32.80L313.00 39.70 M328.23 34.10L335.84 34.10 M328.23 34.10L328.23 39.70 M335.84 34.10L335.84 39.70 M320.62 32.10L332.03 32.10 M320.62 32.10L320.62 39.70 M332.03 32.10L332.03 34.10 M326.32 31.10L343.45 31.10 M326.32 31.10L326.32 32.10 M343.45 31.10L343.45 39.70 M309.20 29.50L334.88 29.50 M309.20 29.50L309.20 32.80 M334.88 29.50L334.88 31.10 M293.98 28.60L322.04 28.60 M293.98 28.60L293.98 32.40 M322.04 28.60L322.04 29.50 M358.67 35.50L366.27 35.50 M358.67 35.50L358.67 39.70 M366.27 35.50L366.27 39.70 M362.47 34.00L373.88 34.00 M362.47 34.00L362.47 35.50 M373.88 34.00L373.88 39.70 M368.18 33.20L381.50 33.20 M368.18 33.20L368.18 34.00 M381.50 33.20L381.50 39.70 M351.06 32.90L374.84 32.90 M351.06 32.90L351.06 39.70 M374.84 32.90L374.84 33.20 M362.95 27.10L389.11 27.10 M362.95 27.10L362.95 32.90 M389.11 27.10L389.11 39.70 M308.01 22.70L376.03 22.70 M308.01 22.70L308.01 28.60 M376.03 22.70L376.03 27.10 M396.72 32.80L404.33 32.80 M396.72 32.80L396.72 39.70 M404.33 32.80L404.33 39.70 M411.94 32.80L419.55 32.80 M411.94 32.80L411.94 39.70 M419.55 32.80L419.55 39.70 M400.52 29.00L415.74 29.00 M400.52 29.00L400.52 32.80 M415.74 29.00L415.74 32.80 M427.16 31.00L434.76 31.00 M427.16 31.00L427.16 39.70 M434.76 31.00L434.76 39.70 M408.13 25.60L430.96 25.60 M408.13 25.60L408.13 29.00 M430.96 25.60L430.96 31.00 M342.02 19.40L419.55 19.40 M342.02 19.40L342.02 22.70 M419.55 19.40L419.55 25.60 M197.84 7.90L380.78 7.90 M197.84 7.90L197.84 25.30 M380.78 7.90L380.78 19.40 M144.10 119.38L144.10 127.93 M144.10 119.38L148.20 119.38 M144.10 127.93L148.20 127.93 M145.60 136.49L145.60 145.05 M145.60 136.49L148.20 136.49 M145.60 145.05L148.20 145.05 M142.50 123.66L142.50 140.77 M142.50 123.66L144.10 123.66 M142.50 140.77L145.60 140.77 M145.50 153.60L145.50 162.16 M145.50 153.60L148.20 153.60 M145.50 162.16L148.20 162.16 M146.50 170.71L146.50 179.27 M146.50 170.71L148.20 170.71 M146.50 179.27L148.20 179.27 M146.50 187.83L146.50 196.38 M146.50 187.83L148.20 187.83 M146.50 196.38L148.20 196.38 M145.50 174.99L145.50 192.10 M145.50 174.99L146.50 174.99 M145.50 192.10L146.50 192.10 M144.30 157.88L144.30 183.55 M144.30 157.88L145.50 157.88 M144.30 183.55L145.50 183.55 M144.60 213.49L144.60 222.05 M144.60 213.49L148.20 213.49 M144.60 222.05L148.20 222.05 M143.50 204.94L143.50 217.77 M143.50 204.94L148.20 204.94 M143.50 217.77L144.60 217.77 M142.20 170.71L142.20 211.35 M142.20 170.71L144.30 170.71 M142.20 211.35L143.50 211.35 M144.60 230.61L144.60 239.16 M144.60 230.61L148.20 230.61 M144.60 239.16L148.20 239.16 M141.20 191.03L141.20 234.88 M141.20 191.03L142.20 191.03 M141.20 234.88L144.60 234.88 M140.50 132.21L140.50 212.96 M140.50 132.21L142.50 132.21 M140.50 212.96L141.20 212.96 M145.30 256.27L145.30 264.83 M145.30 256.27L148.20 256.27 M145.30 264.83L148.20 264.83 M144.30 247.72L144.30 260.55 M144.30 247.72L148.20 247.72 M144.30 260.55L145.30 260.55 M144.50 281.94L144.50 290.50 M144.50 281.94L148.20 281.94 M144.50 290.50L148.20 290.50 M143.80 273.39L143.80 286.22 M143.80 273.39L148.20 273.39 M143.80 286.22L144.50 286.22 M142.30 254.13L142.30 279.80 M142.30 254.13L144.30 254.13 M142.30 279.80L143.80 279.80 M146.30 299.05L146.30 307.61 M146.30 299.05L148.20 299.05 M146.30 307.61L148.20 307.61 M141.00 303.33L141.00 316.17 M141.00 303.33L146.30 303.33 M141.00 316.17L148.20 316.17 M140.20 266.97L140.20 309.75 M140.20 266.97L142.30 266.97 M140.20 309.75L141.00 309.75 M130.50 172.59L130.50 288.36 M130.50 172.59L140.50 172.59 M130.50 288.36L140.20 288.36 M138.00 333.28L138.00 341.83 M138.00 333.28L148.20 333.28 M138.00 341.83L148.20 341.83 M137.00 337.56L137.00 350.39 M137.00 337.56L138.00 337.56 M137.00 350.39L148.20 350.39 M134.90 324.72L134.90 343.97 M134.90 324.72L148.20 324.72 M134.90 343.97L137.00 343.97 M142.10 358.95L142.10 367.50 M142.10 358.95L148.20 358.95 M142.10 367.50L148.20 367.50 M132.80 363.22L132.80 376.06 M132.80 363.22L142.10 363.22 M132.80 376.06L148.20 376.06 M130.20 334.35L130.20 369.64 M130.20 334.35L134.90 334.35 M130.20 369.64L132.80 369.64 M109.70 230.47L109.70 351.99 M109.70 230.47L130.50 230.47 M109.70 351.99L130.20 351.99" stroke="#b0b0b0" stroke-width="0.8" fill="none" stroke-linecap="square"/>
<defs><linearGradient id="cb" x1="0" y1="0" x2="0" y2="1"><stop offset="0" stop-color="#3a3f9c"/><stop offset="0.15" stop-color="#5a66b4"/><stop offset="0.3" stop-color="#8d9cd4"/><stop offset="0.42" stop-color="#c9d3ef"/><stop offset="0.52" stop-color="#ece8e6"/><stop offset="0.65" stop-color="#f2cbb5"/><stop offset="0.78" stop-color="#e7a385"/><stop offset="0.9" stop-color="#d66b50"/><stop offset="1" stop-color="#bd3a2d"/></linearGradient></defs>
<rect x="23.7" y="22.8" width="8.2" height="40.7" fill="url(#cb)"/>
<g fill="#111111" font-size="6.3">
<text x="28.2" y="11.3" text-anchor="middle">Total Blasts</text>
<text x="28.0" y="19.1" text-anchor="middle">(<tspan font-style="italic">z</tspan>-score)</text>
<rect x="35.2" y="29.00" width="2.7" height="1.0"/>
<text x="42.9" y="31.80" font-size="6.6">1.6</text>
<rect x="35.2" y="37.10" width="2.7" height="1.0"/>
<text x="42.9" y="39.90" font-size="6.6">0.8</text>
<rect x="35.2" y="45.70" width="2.7" height="1.0"/>
<text x="42.9" y="48.50" font-size="6.6">0.0</text>
<rect x="35.2" y="53.90" width="2.7" height="1.0"/>
<text x="42.9" y="56.70" font-size="6.6">−0.8</text>
<rect x="35.2" y="62.10" width="2.7" height="1.0"/>
<text x="42.9" y="64.90" font-size="6.6">−1.6</text>
<text x="59.2" y="31.7">Less Sensitive</text>
<text x="59.2" y="64.8">More Sensitive</text>
<rect x="7.50" y="78.90" width="97.80" height="142.10" fill="none" stroke="#222" stroke-width="1.1"/>
<text x="56.2" y="87.0" text-anchor="middle">Drug Classes</text>
<rect x="9.40" y="90.65" width="13.10" height="4.90" fill="#3b6db4" stroke="#000" stroke-opacity="0.18" stroke-width="0.5"/>
<text x="27.3" y="95.30">Hypomethylating Agent</text>
<rect x="9.40" y="100.08" width="13.10" height="4.90" fill="#e07a1f" stroke="#000" stroke-opacity="0.18" stroke-width="0.5"/>
<text x="27.3" y="104.73">Anthracycline</text>
<rect x="9.40" y="109.51" width="13.10" height="4.90" fill="#3c913a" stroke="#000" stroke-opacity="0.18" stroke-width="0.5"/>
<text x="27.3" y="114.16">Lenalidomide</text>
<rect x="9.40" y="118.94" width="13.10" height="4.90" fill="#a8d08d" stroke="#000" stroke-opacity="0.18" stroke-width="0.5"/>
<text x="27.3" y="123.59">BCL-2 inhibitor</text>
<rect x="9.40" y="128.37" width="13.10" height="4.90" fill="#b8141a" stroke="#000" stroke-opacity="0.18" stroke-width="0.5"/>
<text x="27.3" y="133.02">HDAC Inhibitor</text>
<rect x="9.40" y="137.80" width="13.10" height="4.90" fill="#7f5bae" stroke="#000" stroke-opacity="0.18" stroke-width="0.5"/>
<text x="27.3" y="142.45">mTOR Inhibitor</text>
<rect x="9.40" y="147.23" width="13.10" height="4.90" fill="#c2b4dc" stroke="#000" stroke-opacity="0.18" stroke-width="0.5"/>
<text x="27.3" y="151.88">Proteasome Inhibitor</text>
<rect x="9.40" y="156.66" width="13.10" height="4.90" fill="#7e4b3e" stroke="#000" stroke-opacity="0.18" stroke-width="0.5"/>
<text x="27.3" y="161.31">Kinase Inhibitor</text>
<rect x="9.40" y="166.09" width="13.10" height="4.90" fill="#c060a8" stroke="#000" stroke-opacity="0.18" stroke-width="0.5"/>
<text x="27.3" y="170.74">IDH Inhibitor</text>
<rect x="9.40" y="175.52" width="13.10" height="4.90" fill="#ecbdd8" stroke="#000" stroke-opacity="0.18" stroke-width="0.5"/>
<text x="27.3" y="180.17">PARP Inhibitor</text>
<rect x="9.40" y="184.95" width="13.10" height="4.90" fill="#8a8a8a" stroke="#000" stroke-opacity="0.18" stroke-width="0.5"/>
<text x="27.3" y="189.60">Differentiative Agent</text>
<rect x="9.40" y="194.38" width="13.10" height="4.90" fill="#d9db86" stroke="#000" stroke-opacity="0.18" stroke-width="0.5"/>
<text x="27.3" y="199.03">Other</text>
<rect x="9.40" y="203.81" width="13.10" height="4.90" fill="#4faecf" stroke="#000" stroke-opacity="0.18" stroke-width="0.5"/>
<text x="27.3" y="208.46">Purine Analog</text>
<rect x="9.40" y="213.24" width="13.10" height="4.90" fill="#bcddeb" stroke="#000" stroke-opacity="0.18" stroke-width="0.5"/>
<text x="27.3" y="217.89">Combination</text>
<rect x="77.90" y="241.20" width="27.30" height="40.10" fill="none" stroke="#222" stroke-width="1.1"/>
<text x="91.7" y="249.2" text-anchor="middle">Cluster</text>
<rect x="80.60" y="253.15" width="12.90" height="4.90" fill="#4a9a73" stroke="#000" stroke-opacity="0.18" stroke-width="0.5"/>
<text x="98.6" y="257.80">1</text>
<rect x="80.60" y="262.95" width="12.90" height="4.90" fill="#c8561b" stroke="#000" stroke-opacity="0.18" stroke-width="0.5"/>
<text x="98.6" y="267.60">2</text>
<rect x="80.60" y="272.75" width="12.90" height="4.90" fill="#7e72ba" stroke="#000" stroke-opacity="0.18" stroke-width="0.5"/>
<text x="98.6" y="277.40">3</text>
<rect x="61.40" y="287.70" width="43.90" height="39.40" fill="none" stroke="#222" stroke-width="1.1"/>
<text x="83.7" y="295.8" text-anchor="middle">Blasts</text>
<rect x="64.10" y="299.85" width="13.40" height="4.90" fill="#3f1a55" stroke="#000" stroke-opacity="0.18" stroke-width="0.5"/>
<text x="81.8" y="304.50">&lt;5%</text>
<rect x="64.10" y="309.45" width="13.40" height="4.90" fill="#3e8e8a" stroke="#000" stroke-opacity="0.18" stroke-width="0.5"/>
<text x="81.8" y="314.10">5-10%</text>
<rect x="64.10" y="319.05" width="13.40" height="4.90" fill="#f1e21f" stroke="#000" stroke-opacity="0.18" stroke-width="0.5"/>
<text x="81.8" y="323.70">&gt;10%</text>
<rect x="46.50" y="333.30" width="58.80" height="38.80" fill="none" stroke="#222" stroke-width="1.1"/>
<text x="75.8" y="340.7" text-anchor="middle">HMA Exposure</text>
<rect x="48.50" y="345.05" width="13.00" height="4.90" fill="#ebebeb" stroke="#000" stroke-opacity="0.18" stroke-width="0.5"/>
<text x="65.8" y="349.70">Naive</text>
<rect x="48.50" y="354.40" width="13.00" height="4.90" fill="#6a9e3a" stroke="#000" stroke-opacity="0.18" stroke-width="0.5"/>
<text x="65.8" y="359.05">Responsive</text>
<rect x="48.50" y="363.75" width="13.00" height="4.90" fill="#d9a41a" stroke="#000" stroke-opacity="0.18" stroke-width="0.5"/>
<text x="65.8" y="368.40">Refractory</text>
</g>
<rect x="0.5" y="0.5" width="518.8" height="410.8" fill="none" stroke="#000" stroke-width="1.2"/>
</svg>
</body></html>
